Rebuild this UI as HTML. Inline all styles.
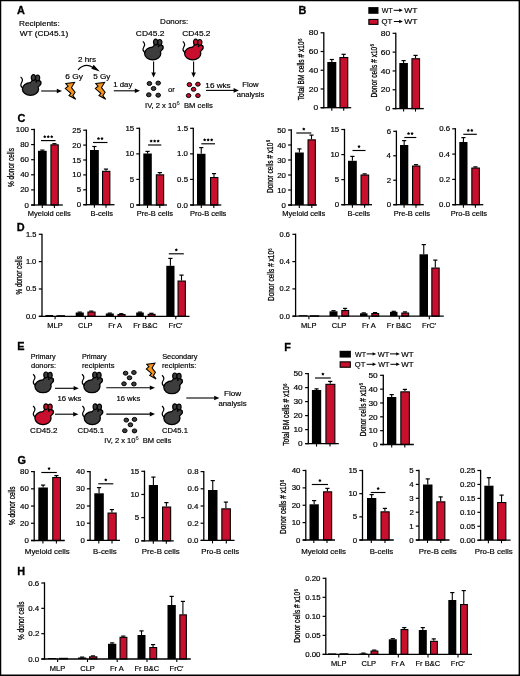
<!DOCTYPE html>
<html><head><meta charset="utf-8"><style>
html,body{margin:0;padding:0;background:#fff;}
svg{display:block;font-family:"Liberation Sans", sans-serif;will-change:transform;}
</style></head><body>
<svg width="520" height="676" viewBox="0 0 520 676" font-family='"Liberation Sans", sans-serif' fill="#000">
<rect x="0" y="0" width="520" height="676" fill="#fff"/>
<text x="16.92" y="14" font-size="10.9" font-weight="bold" stroke="#000" stroke-width="0.3" >A</text>
<text x="19.02" y="26" font-size="7.8" textLength="40.74" lengthAdjust="spacingAndGlyphs" stroke="#000" stroke-width="0.18" >Recipients:</text>
<text x="19.67" y="36" font-size="7.9" textLength="48.54" lengthAdjust="spacingAndGlyphs" stroke="#000" stroke-width="0.18" >WT (CD45.1)</text>
<g transform="translate(20,74.5)"><g fill="#000" stroke="#000" stroke-width="2.5"><ellipse cx="10.5" cy="14.5" rx="7.5" ry="5.8"/><ellipse cx="15.3" cy="9.2" rx="4.4" ry="3.7" transform="rotate(-20 15.3 9.2)"/><ellipse cx="18.5" cy="8.4" rx="1.9" ry="1.6"/></g><g fill="#3d3d3d"><ellipse cx="10.5" cy="14.5" rx="7.5" ry="5.8"/><ellipse cx="15.3" cy="9.2" rx="4.4" ry="3.7" transform="rotate(-20 15.3 9.2)"/><ellipse cx="18.5" cy="8.4" rx="1.9" ry="1.6"/></g><path d="M0.6 2.4 C3 4.4 2.8 6.4 1.5 8.2 C0.3 10.2 1 12.4 3.2 13.8" fill="none" stroke="#000" stroke-width="1.2"/><ellipse cx="13.4" cy="3.1" rx="2.1" ry="2.9" fill="#3d3d3d" stroke="#000" stroke-width="1.2"/><ellipse cx="17.6" cy="3.4" rx="2.1" ry="2.9" fill="#3d3d3d" stroke="#000" stroke-width="1.2"/><circle cx="16.3" cy="7.3" r="0.9" fill="#000"/></g>
<line x1="41.2" y1="91" x2="57.3" y2="91" stroke="#000" stroke-width="1.1"/>
<polygon points="56.8,88.7 62,91 56.8,93.3" fill="#000"/>
<polygon points="65.8,83.6 74.6,82.4 71.5,87.6 75.1,92.2 72.9,95.8 75.8,99.3 69,95.5 70.9,93.4 65.3,88.6 68.1,86.2" fill="#f7941d" stroke="#000" stroke-width="1.05" stroke-linejoin="miter"/>
<polygon points="95.8,83.6 104.6,82.4 101.5,87.6 105.1,92.2 102.9,95.8 105.8,99.3 99,95.5 100.9,93.4 95.3,88.6 98.1,86.2" fill="#f7941d" stroke="#000" stroke-width="1.05" stroke-linejoin="miter"/>
<text x="65.38" y="78.5" font-size="7.8" textLength="17.53" lengthAdjust="spacingAndGlyphs" stroke="#000" stroke-width="0.18" >6 Gy</text>
<text x="93.28" y="78.5" font-size="7.8" textLength="17.14" lengthAdjust="spacingAndGlyphs" stroke="#000" stroke-width="0.18" >5 Gy</text>
<text x="78.1" y="62" font-size="7.8" textLength="17.99" lengthAdjust="spacingAndGlyphs" stroke="#000" stroke-width="0.18" >2 hrs</text>
<path d="M78 69.8 Q85 62.6 93 67.4" fill="none" stroke="#000" stroke-width="1.2"/>
<polygon points="93.6,64.8 99.8,71.6 91.4,68.8" fill="#000"/>
<text x="113.21" y="87.3" font-size="7.8" stroke="#000" stroke-width="0.18" >1 day</text>
<line x1="113.8" y1="90.8" x2="135.3" y2="90.8" stroke="#000" stroke-width="1.1"/>
<polygon points="134.8,88.5 140,90.8 134.8,93.1" fill="#000"/>
<text x="160.14" y="24.4" font-size="7.8" textLength="27.99" lengthAdjust="spacingAndGlyphs" stroke="#000" stroke-width="0.18" >Donors:</text>
<text x="135.88" y="35.8" font-size="8" textLength="28.55" lengthAdjust="spacingAndGlyphs" stroke="#000" stroke-width="0.18" >CD45.2</text>
<text x="182.18" y="35.8" font-size="8" textLength="28.34" lengthAdjust="spacingAndGlyphs" stroke="#000" stroke-width="0.18" >CD45.2</text>
<g transform="translate(142.2,39)"><g fill="#000" stroke="#000" stroke-width="2.5"><ellipse cx="10.5" cy="14.5" rx="7.5" ry="5.8"/><ellipse cx="15.3" cy="9.2" rx="4.4" ry="3.7" transform="rotate(-20 15.3 9.2)"/><ellipse cx="18.5" cy="8.4" rx="1.9" ry="1.6"/></g><g fill="#3d3d3d"><ellipse cx="10.5" cy="14.5" rx="7.5" ry="5.8"/><ellipse cx="15.3" cy="9.2" rx="4.4" ry="3.7" transform="rotate(-20 15.3 9.2)"/><ellipse cx="18.5" cy="8.4" rx="1.9" ry="1.6"/></g><path d="M0.6 2.4 C3 4.4 2.8 6.4 1.5 8.2 C0.3 10.2 1 12.4 3.2 13.8" fill="none" stroke="#000" stroke-width="1.2"/><ellipse cx="13.4" cy="3.1" rx="2.1" ry="2.9" fill="#3d3d3d" stroke="#000" stroke-width="1.2"/><ellipse cx="17.6" cy="3.4" rx="2.1" ry="2.9" fill="#3d3d3d" stroke="#000" stroke-width="1.2"/><circle cx="16.3" cy="7.3" r="0.9" fill="#000"/></g>
<g transform="translate(182.2,39)"><g fill="#000" stroke="#000" stroke-width="2.5"><ellipse cx="10.5" cy="14.5" rx="7.5" ry="5.8"/><ellipse cx="15.3" cy="9.2" rx="4.4" ry="3.7" transform="rotate(-20 15.3 9.2)"/><ellipse cx="18.5" cy="8.4" rx="1.9" ry="1.6"/></g><g fill="#c8102e"><ellipse cx="10.5" cy="14.5" rx="7.5" ry="5.8"/><ellipse cx="15.3" cy="9.2" rx="4.4" ry="3.7" transform="rotate(-20 15.3 9.2)"/><ellipse cx="18.5" cy="8.4" rx="1.9" ry="1.6"/></g><path d="M0.6 2.4 C3 4.4 2.8 6.4 1.5 8.2 C0.3 10.2 1 12.4 3.2 13.8" fill="none" stroke="#000" stroke-width="1.2"/><ellipse cx="13.4" cy="3.1" rx="2.1" ry="2.9" fill="#c8102e" stroke="#000" stroke-width="1.2"/><ellipse cx="17.6" cy="3.4" rx="2.1" ry="2.9" fill="#c8102e" stroke="#000" stroke-width="1.2"/><circle cx="16.3" cy="7.3" r="0.9" fill="#000"/></g>
<line x1="153.6" y1="61.6" x2="153.6" y2="73.1" stroke="#000" stroke-width="1.1"/>
<polygon points="151.3,72.6 153.6,77.6 155.9,72.6" fill="#000"/>
<line x1="193.6" y1="61.6" x2="193.6" y2="73.1" stroke="#000" stroke-width="1.1"/>
<polygon points="191.3,72.6 193.6,77.6 195.9,72.6" fill="#000"/>
<ellipse cx="149.4" cy="83.5" rx="2.3" ry="2.0" fill="#3d3d3d" stroke="#000" stroke-width="1.0"/>
<ellipse cx="158.2" cy="83.1" rx="2.3" ry="2.0" fill="#3d3d3d" stroke="#000" stroke-width="1.0"/>
<ellipse cx="153.6" cy="88.5" rx="2.3" ry="2.0" fill="#3d3d3d" stroke="#000" stroke-width="1.0"/>
<ellipse cx="148.8" cy="94.8" rx="2.3" ry="2.0" fill="#3d3d3d" stroke="#000" stroke-width="1.0"/>
<ellipse cx="158.2" cy="95.2" rx="2.3" ry="2.0" fill="#3d3d3d" stroke="#000" stroke-width="1.0"/>
<ellipse cx="189.4" cy="84.6" rx="2.3" ry="2.0" fill="#c8102e" stroke="#000" stroke-width="1.0"/>
<ellipse cx="197.9" cy="84.2" rx="2.3" ry="2.0" fill="#c8102e" stroke="#000" stroke-width="1.0"/>
<ellipse cx="193.6" cy="89.3" rx="2.3" ry="2.0" fill="#c8102e" stroke="#000" stroke-width="1.0"/>
<ellipse cx="188.6" cy="95.6" rx="2.3" ry="2.0" fill="#c8102e" stroke="#000" stroke-width="1.0"/>
<ellipse cx="197.9" cy="95.6" rx="2.3" ry="2.0" fill="#c8102e" stroke="#000" stroke-width="1.0"/>
<text x="167.98" y="91.6" font-size="7.8" textLength="6.86" lengthAdjust="spacingAndGlyphs" stroke="#000" stroke-width="0.18" >or</text>
<text x="145.1" y="107.5" font-size="7.6" stroke="#000" stroke-width="0.18" >IV, 2 x 10</text>
<text x="176.61" y="104.9" font-size="5.4" textLength="3.25" lengthAdjust="spacingAndGlyphs" >6</text>
<text x="183.97" y="107.5" font-size="7.6" textLength="28.91" lengthAdjust="spacingAndGlyphs" stroke="#000" stroke-width="0.18" >BM cells</text>
<text x="205.38" y="87.7" font-size="7.8" textLength="25.31" lengthAdjust="spacingAndGlyphs" stroke="#000" stroke-width="0.18" >16 wks</text>
<line x1="206" y1="90.4" x2="234.1" y2="90.4" stroke="#000" stroke-width="1.1"/>
<polygon points="233.6,88.1 238.8,90.4 233.6,92.7" fill="#000"/>
<text x="242.27" y="87.3" font-size="7.6" textLength="16.21" lengthAdjust="spacingAndGlyphs" stroke="#000" stroke-width="0.18" >Flow</text>
<text x="236.68" y="96.5" font-size="7.6" textLength="27.6" lengthAdjust="spacingAndGlyphs" stroke="#000" stroke-width="0.18" >analysis</text>
<text x="298.48" y="13.6" font-size="10.9" font-weight="bold" stroke="#000" stroke-width="0.3" >B</text>
<rect x="368.3" y="7.1" width="10.2" height="6.7" fill="#000"/>
<rect x="368.85" y="19.45" width="9.1" height="4.9" fill="#c8102e" stroke="#000" stroke-width="1.1"/>
<text x="381.77" y="12.9" font-size="8" textLength="10.89" lengthAdjust="spacingAndGlyphs" stroke="#000" stroke-width="0.18" >WT</text>
<line x1="393.6" y1="10.3" x2="399.7" y2="10.3" stroke="#000" stroke-width="1"/>
<polygon points="399.2,8.6 402.8,10.3 399.2,12" fill="#000"/>
<text x="404.37" y="12.9" font-size="8" textLength="13.13" lengthAdjust="spacingAndGlyphs" stroke="#000" stroke-width="0.18" >WT</text>
<text x="381.43" y="24.1" font-size="8" textLength="10.75" lengthAdjust="spacingAndGlyphs" stroke="#000" stroke-width="0.18" >QT</text>
<line x1="393.9" y1="21.5" x2="399.7" y2="21.5" stroke="#000" stroke-width="1"/>
<polygon points="399.2,19.8 402.8,21.5 399.2,23.2" fill="#000"/>
<text x="404.37" y="24.1" font-size="8" textLength="13.13" lengthAdjust="spacingAndGlyphs" stroke="#000" stroke-width="0.18" >WT</text>
<line x1="331.8" y1="62" x2="331.8" y2="59.4" stroke="#000" stroke-width="1.1"/>
<line x1="329.7" y1="59.5" x2="333.9" y2="59.5" stroke="#000" stroke-width="1.2"/>
<rect x="327.3" y="62" width="9" height="45.7" fill="#000"/>
<line x1="343.65" y1="57" x2="343.65" y2="54.2" stroke="#000" stroke-width="1.1"/>
<line x1="341.55" y1="54.3" x2="345.75" y2="54.3" stroke="#000" stroke-width="1.2"/>
<rect x="339.95" y="57.55" width="7.8" height="50.15" fill="#c8102e" stroke="#000" stroke-width="1.1"/>
<line x1="323.8" y1="32.15" x2="323.8" y2="108.35" stroke="#000" stroke-width="1.3"/>
<line x1="320.6" y1="107.7" x2="323.8" y2="107.7" stroke="#000" stroke-width="1.2"/>
<text x="313.51" y="110.39" font-size="7.7" textLength="4.71" lengthAdjust="spacingAndGlyphs" stroke="#000" stroke-width="0.18" >0</text>
<line x1="320.6" y1="88.97" x2="323.8" y2="88.97" stroke="#000" stroke-width="1.2"/>
<text x="308.8" y="91.67" font-size="7.7" textLength="9.42" lengthAdjust="spacingAndGlyphs" stroke="#000" stroke-width="0.18" >20</text>
<line x1="320.6" y1="70.25" x2="323.8" y2="70.25" stroke="#000" stroke-width="1.2"/>
<text x="308.8" y="72.94" font-size="7.7" textLength="9.42" lengthAdjust="spacingAndGlyphs" stroke="#000" stroke-width="0.18" >40</text>
<line x1="320.6" y1="51.52" x2="323.8" y2="51.52" stroke="#000" stroke-width="1.2"/>
<text x="308.8" y="54.22" font-size="7.7" textLength="9.42" lengthAdjust="spacingAndGlyphs" stroke="#000" stroke-width="0.18" >60</text>
<line x1="320.6" y1="32.8" x2="323.8" y2="32.8" stroke="#000" stroke-width="1.2"/>
<text x="308.8" y="35.49" font-size="7.7" textLength="9.42" lengthAdjust="spacingAndGlyphs" stroke="#000" stroke-width="0.18" >80</text>
<line x1="320.7" y1="107.7" x2="351.2" y2="107.7" stroke="#000" stroke-width="1.3"/>
<line x1="331.8" y1="107.7" x2="331.8" y2="110.7" stroke="#000" stroke-width="1.1"/>
<line x1="343.7" y1="107.7" x2="343.7" y2="110.7" stroke="#000" stroke-width="1.1"/>
<g transform="translate(303.8,100.1) rotate(-90)"><text x="-0.15" y="0" font-size="8.5" textLength="58.96" lengthAdjust="spacingAndGlyphs" stroke="#000" stroke-width="0.28">Total BM cells # x10</text><text x="59.13" y="-2.21" font-size="5.44" textLength="2.36" lengthAdjust="spacingAndGlyphs" stroke="#000" stroke-width="0.2">6</text></g>
<line x1="403.6" y1="63" x2="403.6" y2="60.5" stroke="#000" stroke-width="1.1"/>
<line x1="401.5" y1="60.6" x2="405.7" y2="60.6" stroke="#000" stroke-width="1.2"/>
<rect x="399.3" y="63" width="8.6" height="45.6" fill="#000"/>
<line x1="415.55" y1="58.2" x2="415.55" y2="55.3" stroke="#000" stroke-width="1.1"/>
<line x1="413.45" y1="55.4" x2="417.65" y2="55.4" stroke="#000" stroke-width="1.2"/>
<rect x="411.95" y="58.75" width="7.6" height="49.85" fill="#c8102e" stroke="#000" stroke-width="1.1"/>
<line x1="395.8" y1="32.65" x2="395.8" y2="109.25" stroke="#000" stroke-width="1.3"/>
<line x1="392.6" y1="108.6" x2="395.8" y2="108.6" stroke="#000" stroke-width="1.2"/>
<text x="385.51" y="111.29" font-size="7.7" textLength="4.71" lengthAdjust="spacingAndGlyphs" stroke="#000" stroke-width="0.18" >0</text>
<line x1="392.6" y1="89.77" x2="395.8" y2="89.77" stroke="#000" stroke-width="1.2"/>
<text x="380.8" y="92.47" font-size="7.7" textLength="9.42" lengthAdjust="spacingAndGlyphs" stroke="#000" stroke-width="0.18" >20</text>
<line x1="392.6" y1="70.95" x2="395.8" y2="70.95" stroke="#000" stroke-width="1.2"/>
<text x="380.8" y="73.64" font-size="7.7" textLength="9.42" lengthAdjust="spacingAndGlyphs" stroke="#000" stroke-width="0.18" >40</text>
<line x1="392.6" y1="52.12" x2="395.8" y2="52.12" stroke="#000" stroke-width="1.2"/>
<text x="380.8" y="54.82" font-size="7.7" textLength="9.42" lengthAdjust="spacingAndGlyphs" stroke="#000" stroke-width="0.18" >60</text>
<line x1="392.6" y1="33.3" x2="395.8" y2="33.3" stroke="#000" stroke-width="1.2"/>
<text x="380.8" y="35.99" font-size="7.7" textLength="9.42" lengthAdjust="spacingAndGlyphs" stroke="#000" stroke-width="0.18" >80</text>
<line x1="392.7" y1="108.6" x2="423.8" y2="108.6" stroke="#000" stroke-width="1.3"/>
<line x1="403.6" y1="108.6" x2="403.6" y2="111.6" stroke="#000" stroke-width="1.1"/>
<line x1="415.5" y1="108.6" x2="415.5" y2="111.6" stroke="#000" stroke-width="1.1"/>
<g transform="translate(376.5,97) rotate(-90)"><text x="-0.54" y="0" font-size="8.7" textLength="50.78" lengthAdjust="spacingAndGlyphs" stroke="#000" stroke-width="0.28">Donor cells # x10</text><text x="50.55" y="-2.26" font-size="5.57" textLength="2.34" lengthAdjust="spacingAndGlyphs" stroke="#000" stroke-width="0.2">6</text></g>
<text x="17.56" y="122.3" font-size="10.9" font-weight="bold" stroke="#000" stroke-width="0.3" >C</text>
<line x1="42.35" y1="150.8" x2="42.35" y2="150" stroke="#000" stroke-width="1.1"/>
<line x1="40.25" y1="150.1" x2="44.45" y2="150.1" stroke="#000" stroke-width="1.2"/>
<rect x="38" y="150.8" width="8.7" height="54.2" fill="#000"/>
<line x1="54.4" y1="144.3" x2="54.4" y2="143.6" stroke="#000" stroke-width="1.1"/>
<line x1="52.3" y1="143.7" x2="56.5" y2="143.7" stroke="#000" stroke-width="1.2"/>
<rect x="50.95" y="144.85" width="7.3" height="60.15" fill="#c8102e" stroke="#000" stroke-width="1.1"/>
<line x1="34.3" y1="128.85" x2="34.3" y2="205.65" stroke="#000" stroke-width="1.3"/>
<line x1="31.1" y1="205" x2="34.3" y2="205" stroke="#000" stroke-width="1.2"/>
<text x="24.62" y="207.56" font-size="7.3" textLength="4.38" lengthAdjust="spacingAndGlyphs" stroke="#000" stroke-width="0.18" >0</text>
<line x1="31.1" y1="189.9" x2="34.3" y2="189.9" stroke="#000" stroke-width="1.2"/>
<text x="20.23" y="192.46" font-size="7.3" textLength="8.77" lengthAdjust="spacingAndGlyphs" stroke="#000" stroke-width="0.18" >20</text>
<line x1="31.1" y1="174.8" x2="34.3" y2="174.8" stroke="#000" stroke-width="1.2"/>
<text x="20.23" y="177.36" font-size="7.3" textLength="8.77" lengthAdjust="spacingAndGlyphs" stroke="#000" stroke-width="0.18" >40</text>
<line x1="31.1" y1="159.7" x2="34.3" y2="159.7" stroke="#000" stroke-width="1.2"/>
<text x="20.23" y="162.25" font-size="7.3" textLength="8.77" lengthAdjust="spacingAndGlyphs" stroke="#000" stroke-width="0.18" >60</text>
<line x1="31.1" y1="144.6" x2="34.3" y2="144.6" stroke="#000" stroke-width="1.2"/>
<text x="20.23" y="147.16" font-size="7.3" textLength="8.77" lengthAdjust="spacingAndGlyphs" stroke="#000" stroke-width="0.18" >80</text>
<line x1="31.1" y1="129.5" x2="34.3" y2="129.5" stroke="#000" stroke-width="1.2"/>
<text x="15.85" y="132.06" font-size="7.3" textLength="13.15" lengthAdjust="spacingAndGlyphs" stroke="#000" stroke-width="0.18" >100</text>
<line x1="31.2" y1="205" x2="62.8" y2="205" stroke="#000" stroke-width="1.3"/>
<line x1="42.3" y1="205" x2="42.3" y2="208" stroke="#000" stroke-width="1.1"/>
<line x1="54.4" y1="205" x2="54.4" y2="208" stroke="#000" stroke-width="1.1"/>
<text x="27.86" y="215.8" font-size="7.5" stroke="#000" stroke-width="0.18" >Myeloid cells</text>
<line x1="41" y1="140.6" x2="55.5" y2="140.6" stroke="#000" stroke-width="1.15"/>
<polygon points="44.75,135.05 45.33,135.9 46.32,136.19 45.69,137.01 45.72,138.03 44.75,137.69 43.78,138.03 43.81,137.01 43.18,136.19 44.17,135.9" fill="#000"/>
<polygon points="48.25,135.05 48.83,135.9 49.82,136.19 49.19,137.01 49.22,138.03 48.25,137.69 47.28,138.03 47.31,137.01 46.68,136.19 47.67,135.9" fill="#000"/>
<polygon points="51.75,135.05 52.33,135.9 53.32,136.19 52.69,137.01 52.72,138.03 51.75,137.69 50.78,138.03 50.81,137.01 50.18,136.19 51.17,135.9" fill="#000"/>
<g transform="translate(13.8,186.8) rotate(-90)"><text x="-0.23" y="0" font-size="8.5" textLength="38.97" lengthAdjust="spacingAndGlyphs" stroke="#000" stroke-width="0.28">% donor cells</text></g>
<line x1="94.4" y1="150" x2="94.4" y2="146.4" stroke="#000" stroke-width="1.1"/>
<line x1="92.3" y1="146.5" x2="96.5" y2="146.5" stroke="#000" stroke-width="1.2"/>
<rect x="90" y="150" width="8.8" height="54.7" fill="#000"/>
<line x1="106" y1="170.8" x2="106" y2="169" stroke="#000" stroke-width="1.1"/>
<line x1="103.9" y1="169.1" x2="108.1" y2="169.1" stroke="#000" stroke-width="1.2"/>
<rect x="102.55" y="171.35" width="7.3" height="33.35" fill="#c8102e" stroke="#000" stroke-width="1.1"/>
<line x1="86.4" y1="129.55" x2="86.4" y2="205.35" stroke="#000" stroke-width="1.3"/>
<line x1="83.2" y1="204.7" x2="86.4" y2="204.7" stroke="#000" stroke-width="1.2"/>
<text x="76.72" y="207.25" font-size="7.3" textLength="4.38" lengthAdjust="spacingAndGlyphs" stroke="#000" stroke-width="0.18" >0</text>
<line x1="83.2" y1="189.8" x2="86.4" y2="189.8" stroke="#000" stroke-width="1.2"/>
<text x="76.75" y="192.35" font-size="7.3" textLength="4.38" lengthAdjust="spacingAndGlyphs" stroke="#000" stroke-width="0.18" >5</text>
<line x1="83.2" y1="174.9" x2="86.4" y2="174.9" stroke="#000" stroke-width="1.2"/>
<text x="72.33" y="177.45" font-size="7.3" textLength="8.77" lengthAdjust="spacingAndGlyphs" stroke="#000" stroke-width="0.18" >10</text>
<line x1="83.2" y1="160" x2="86.4" y2="160" stroke="#000" stroke-width="1.2"/>
<text x="72.36" y="162.56" font-size="7.3" textLength="8.77" lengthAdjust="spacingAndGlyphs" stroke="#000" stroke-width="0.18" >15</text>
<line x1="83.2" y1="145.1" x2="86.4" y2="145.1" stroke="#000" stroke-width="1.2"/>
<text x="72.33" y="147.66" font-size="7.3" textLength="8.77" lengthAdjust="spacingAndGlyphs" stroke="#000" stroke-width="0.18" >20</text>
<line x1="83.2" y1="130.2" x2="86.4" y2="130.2" stroke="#000" stroke-width="1.2"/>
<text x="72.36" y="132.75" font-size="7.3" textLength="8.77" lengthAdjust="spacingAndGlyphs" stroke="#000" stroke-width="0.18" >25</text>
<line x1="83.3" y1="204.7" x2="114.5" y2="204.7" stroke="#000" stroke-width="1.3"/>
<line x1="94.4" y1="204.7" x2="94.4" y2="207.7" stroke="#000" stroke-width="1.1"/>
<line x1="106" y1="204.7" x2="106" y2="207.7" stroke="#000" stroke-width="1.1"/>
<text x="90.38" y="215.8" font-size="7.5" stroke="#000" stroke-width="0.18" >B-cells</text>
<line x1="93" y1="142.5" x2="107.5" y2="142.5" stroke="#000" stroke-width="1.15"/>
<polygon points="98.5,136.95 99.08,137.8 100.07,138.09 99.44,138.91 99.47,139.93 98.5,139.59 97.53,139.93 97.56,138.91 96.93,138.09 97.92,137.8" fill="#000"/>
<polygon points="102,136.95 102.58,137.8 103.57,138.09 102.94,138.91 102.97,139.93 102,139.59 101.03,139.93 101.06,138.91 100.43,138.09 101.42,137.8" fill="#000"/>
<line x1="147.55" y1="153.5" x2="147.55" y2="151.3" stroke="#000" stroke-width="1.1"/>
<line x1="145.45" y1="151.4" x2="149.65" y2="151.4" stroke="#000" stroke-width="1.2"/>
<rect x="143.3" y="153.5" width="8.5" height="51.5" fill="#000"/>
<line x1="159.8" y1="174.3" x2="159.8" y2="172.5" stroke="#000" stroke-width="1.1"/>
<line x1="157.7" y1="172.6" x2="161.9" y2="172.6" stroke="#000" stroke-width="1.2"/>
<rect x="156.35" y="174.85" width="7.3" height="30.15" fill="#c8102e" stroke="#000" stroke-width="1.1"/>
<line x1="139.5" y1="127.65" x2="139.5" y2="205.65" stroke="#000" stroke-width="1.3"/>
<line x1="136.3" y1="205" x2="139.5" y2="205" stroke="#000" stroke-width="1.2"/>
<text x="129.82" y="207.56" font-size="7.3" textLength="4.38" lengthAdjust="spacingAndGlyphs" stroke="#000" stroke-width="0.18" >0</text>
<line x1="136.3" y1="179.43" x2="139.5" y2="179.43" stroke="#000" stroke-width="1.2"/>
<text x="129.85" y="181.99" font-size="7.3" textLength="4.38" lengthAdjust="spacingAndGlyphs" stroke="#000" stroke-width="0.18" >5</text>
<line x1="136.3" y1="153.87" x2="139.5" y2="153.87" stroke="#000" stroke-width="1.2"/>
<text x="125.43" y="156.42" font-size="7.3" textLength="8.77" lengthAdjust="spacingAndGlyphs" stroke="#000" stroke-width="0.18" >10</text>
<line x1="136.3" y1="128.3" x2="139.5" y2="128.3" stroke="#000" stroke-width="1.2"/>
<text x="125.46" y="130.86" font-size="7.3" textLength="8.77" lengthAdjust="spacingAndGlyphs" stroke="#000" stroke-width="0.18" >15</text>
<line x1="136.4" y1="205" x2="167" y2="205" stroke="#000" stroke-width="1.3"/>
<line x1="147.5" y1="205" x2="147.5" y2="208" stroke="#000" stroke-width="1.1"/>
<line x1="159.8" y1="205" x2="159.8" y2="208" stroke="#000" stroke-width="1.1"/>
<text x="136.7" y="215.8" font-size="7.5" stroke="#000" stroke-width="0.18" >Pre-B cells</text>
<line x1="148" y1="145" x2="161.3" y2="145" stroke="#000" stroke-width="1.15"/>
<polygon points="151.15,139.45 151.73,140.3 152.72,140.59 152.09,141.41 152.12,142.43 151.15,142.09 150.18,142.43 150.21,141.41 149.58,140.59 150.57,140.3" fill="#000"/>
<polygon points="154.65,139.45 155.23,140.3 156.22,140.59 155.59,141.41 155.62,142.43 154.65,142.09 153.68,142.43 153.71,141.41 153.08,140.59 154.07,140.3" fill="#000"/>
<polygon points="158.15,139.45 158.73,140.3 159.72,140.59 159.09,141.41 159.12,142.43 158.15,142.09 157.18,142.43 157.21,141.41 156.58,140.59 157.57,140.3" fill="#000"/>
<line x1="201.25" y1="153.8" x2="201.25" y2="147.5" stroke="#000" stroke-width="1.1"/>
<line x1="199.15" y1="147.6" x2="203.35" y2="147.6" stroke="#000" stroke-width="1.2"/>
<rect x="197" y="153.8" width="8.5" height="51.2" fill="#000"/>
<line x1="214" y1="177" x2="214" y2="173.5" stroke="#000" stroke-width="1.1"/>
<line x1="211.9" y1="173.6" x2="216.1" y2="173.6" stroke="#000" stroke-width="1.2"/>
<rect x="210.55" y="177.55" width="7.3" height="27.45" fill="#c8102e" stroke="#000" stroke-width="1.1"/>
<line x1="193.3" y1="127.65" x2="193.3" y2="205.65" stroke="#000" stroke-width="1.3"/>
<line x1="190.1" y1="205" x2="193.3" y2="205" stroke="#000" stroke-width="1.2"/>
<text x="177.04" y="207.56" font-size="7.3" textLength="10.96" lengthAdjust="spacingAndGlyphs" stroke="#000" stroke-width="0.18" >0.0</text>
<line x1="190.1" y1="179.43" x2="193.3" y2="179.43" stroke="#000" stroke-width="1.2"/>
<text x="177.07" y="181.99" font-size="7.3" textLength="10.96" lengthAdjust="spacingAndGlyphs" stroke="#000" stroke-width="0.18" >0.5</text>
<line x1="190.1" y1="153.87" x2="193.3" y2="153.87" stroke="#000" stroke-width="1.2"/>
<text x="177.04" y="156.42" font-size="7.3" textLength="10.96" lengthAdjust="spacingAndGlyphs" stroke="#000" stroke-width="0.18" >1.0</text>
<line x1="190.1" y1="128.3" x2="193.3" y2="128.3" stroke="#000" stroke-width="1.2"/>
<text x="177.07" y="130.86" font-size="7.3" textLength="10.96" lengthAdjust="spacingAndGlyphs" stroke="#000" stroke-width="0.18" >1.5</text>
<line x1="190.2" y1="205" x2="221.3" y2="205" stroke="#000" stroke-width="1.3"/>
<line x1="201.3" y1="205" x2="201.3" y2="208" stroke="#000" stroke-width="1.1"/>
<line x1="213.8" y1="205" x2="213.8" y2="208" stroke="#000" stroke-width="1.1"/>
<text x="190.1" y="215.8" font-size="7.5" stroke="#000" stroke-width="0.18" >Pro-B cells</text>
<line x1="201.3" y1="143.8" x2="215" y2="143.8" stroke="#000" stroke-width="1.15"/>
<polygon points="204.65,138.25 205.23,139.1 206.22,139.39 205.59,140.21 205.62,141.23 204.65,140.89 203.68,141.23 203.71,140.21 203.08,139.39 204.07,139.1" fill="#000"/>
<polygon points="208.15,138.25 208.73,139.1 209.72,139.39 209.09,140.21 209.12,141.23 208.15,140.89 207.18,141.23 207.21,140.21 206.58,139.39 207.57,139.1" fill="#000"/>
<polygon points="211.65,138.25 212.23,139.1 213.22,139.39 212.59,140.21 212.62,141.23 211.65,140.89 210.68,141.23 210.71,140.21 210.08,139.39 211.07,139.1" fill="#000"/>
<line x1="299.4" y1="152.5" x2="299.4" y2="148.8" stroke="#000" stroke-width="1.1"/>
<line x1="297.3" y1="148.9" x2="301.5" y2="148.9" stroke="#000" stroke-width="1.2"/>
<rect x="295" y="152.5" width="8.8" height="52.5" fill="#000"/>
<line x1="311.5" y1="139.3" x2="311.5" y2="135" stroke="#000" stroke-width="1.1"/>
<line x1="309.4" y1="135.1" x2="313.6" y2="135.1" stroke="#000" stroke-width="1.2"/>
<rect x="308.05" y="139.85" width="7.3" height="65.15" fill="#c8102e" stroke="#000" stroke-width="1.1"/>
<line x1="291.3" y1="129.35" x2="291.3" y2="205.65" stroke="#000" stroke-width="1.3"/>
<line x1="288.1" y1="205" x2="291.3" y2="205" stroke="#000" stroke-width="1.2"/>
<text x="281.62" y="207.56" font-size="7.3" textLength="4.38" lengthAdjust="spacingAndGlyphs" stroke="#000" stroke-width="0.18" >0</text>
<line x1="288.1" y1="190" x2="291.3" y2="190" stroke="#000" stroke-width="1.2"/>
<text x="277.23" y="192.56" font-size="7.3" textLength="8.77" lengthAdjust="spacingAndGlyphs" stroke="#000" stroke-width="0.18" >10</text>
<line x1="288.1" y1="175" x2="291.3" y2="175" stroke="#000" stroke-width="1.2"/>
<text x="277.23" y="177.56" font-size="7.3" textLength="8.77" lengthAdjust="spacingAndGlyphs" stroke="#000" stroke-width="0.18" >20</text>
<line x1="288.1" y1="160" x2="291.3" y2="160" stroke="#000" stroke-width="1.2"/>
<text x="277.23" y="162.56" font-size="7.3" textLength="8.77" lengthAdjust="spacingAndGlyphs" stroke="#000" stroke-width="0.18" >30</text>
<line x1="288.1" y1="145" x2="291.3" y2="145" stroke="#000" stroke-width="1.2"/>
<text x="277.23" y="147.56" font-size="7.3" textLength="8.77" lengthAdjust="spacingAndGlyphs" stroke="#000" stroke-width="0.18" >40</text>
<line x1="288.1" y1="130" x2="291.3" y2="130" stroke="#000" stroke-width="1.2"/>
<text x="277.23" y="132.56" font-size="7.3" textLength="8.77" lengthAdjust="spacingAndGlyphs" stroke="#000" stroke-width="0.18" >50</text>
<line x1="288.2" y1="205" x2="317" y2="205" stroke="#000" stroke-width="1.3"/>
<line x1="299.3" y1="205" x2="299.3" y2="208" stroke="#000" stroke-width="1.1"/>
<line x1="311.8" y1="205" x2="311.8" y2="208" stroke="#000" stroke-width="1.1"/>
<text x="282.36" y="215.8" font-size="7.5" stroke="#000" stroke-width="0.18" >Myeloid cells</text>
<line x1="296.3" y1="133" x2="311.3" y2="133" stroke="#000" stroke-width="1.15"/>
<polygon points="303.8,127.45 304.38,128.3 305.37,128.59 304.74,129.41 304.77,130.43 303.8,130.09 302.83,130.43 302.86,129.41 302.23,128.59 303.22,128.3" fill="#000"/>
<g transform="translate(272.6,192.5) rotate(-90)"><text x="-0.53" y="0" font-size="8.5" textLength="50.39" lengthAdjust="spacingAndGlyphs" stroke="#000" stroke-width="0.28">Donor cells # x10</text><text x="50.16" y="-2.21" font-size="5.44" textLength="2.32" lengthAdjust="spacingAndGlyphs" stroke="#000" stroke-width="0.2">6</text></g>
<line x1="352.4" y1="160.8" x2="352.4" y2="156.3" stroke="#000" stroke-width="1.1"/>
<line x1="350.3" y1="156.4" x2="354.5" y2="156.4" stroke="#000" stroke-width="1.2"/>
<rect x="348" y="160.8" width="8.8" height="43.9" fill="#000"/>
<line x1="364.65" y1="174.5" x2="364.65" y2="173.8" stroke="#000" stroke-width="1.1"/>
<line x1="362.55" y1="173.9" x2="366.75" y2="173.9" stroke="#000" stroke-width="1.2"/>
<rect x="361.05" y="175.05" width="7.6" height="29.65" fill="#c8102e" stroke="#000" stroke-width="1.1"/>
<line x1="344.5" y1="128.85" x2="344.5" y2="205.35" stroke="#000" stroke-width="1.3"/>
<line x1="341.3" y1="204.7" x2="344.5" y2="204.7" stroke="#000" stroke-width="1.2"/>
<text x="334.82" y="207.25" font-size="7.3" textLength="4.38" lengthAdjust="spacingAndGlyphs" stroke="#000" stroke-width="0.18" >0</text>
<line x1="341.3" y1="179.63" x2="344.5" y2="179.63" stroke="#000" stroke-width="1.2"/>
<text x="334.85" y="182.19" font-size="7.3" textLength="4.38" lengthAdjust="spacingAndGlyphs" stroke="#000" stroke-width="0.18" >5</text>
<line x1="341.3" y1="154.57" x2="344.5" y2="154.57" stroke="#000" stroke-width="1.2"/>
<text x="330.43" y="157.12" font-size="7.3" textLength="8.77" lengthAdjust="spacingAndGlyphs" stroke="#000" stroke-width="0.18" >10</text>
<line x1="341.3" y1="129.5" x2="344.5" y2="129.5" stroke="#000" stroke-width="1.2"/>
<text x="330.46" y="132.06" font-size="7.3" textLength="8.77" lengthAdjust="spacingAndGlyphs" stroke="#000" stroke-width="0.18" >15</text>
<line x1="341.4" y1="204.7" x2="372" y2="204.7" stroke="#000" stroke-width="1.3"/>
<line x1="352.4" y1="204.7" x2="352.4" y2="207.7" stroke="#000" stroke-width="1.1"/>
<line x1="364.6" y1="204.7" x2="364.6" y2="207.7" stroke="#000" stroke-width="1.1"/>
<text x="347.58" y="215.8" font-size="7.5" stroke="#000" stroke-width="0.18" >B-cells</text>
<line x1="352.5" y1="150.5" x2="365.5" y2="150.5" stroke="#000" stroke-width="1.15"/>
<polygon points="359,144.95 359.58,145.8 360.57,146.09 359.94,146.91 359.97,147.93 359,147.59 358.03,147.93 358.06,146.91 357.43,146.09 358.42,145.8" fill="#000"/>
<line x1="404.15" y1="145" x2="404.15" y2="140.5" stroke="#000" stroke-width="1.1"/>
<line x1="402.05" y1="140.6" x2="406.25" y2="140.6" stroke="#000" stroke-width="1.2"/>
<rect x="400" y="145" width="8.3" height="59.7" fill="#000"/>
<line x1="416" y1="165.5" x2="416" y2="164.6" stroke="#000" stroke-width="1.1"/>
<line x1="413.9" y1="164.7" x2="418.1" y2="164.7" stroke="#000" stroke-width="1.2"/>
<rect x="412.55" y="166.05" width="7.3" height="38.65" fill="#c8102e" stroke="#000" stroke-width="1.1"/>
<line x1="396.4" y1="130.65" x2="396.4" y2="205.35" stroke="#000" stroke-width="1.3"/>
<line x1="393.2" y1="204.7" x2="396.4" y2="204.7" stroke="#000" stroke-width="1.2"/>
<text x="386.72" y="207.25" font-size="7.3" textLength="4.38" lengthAdjust="spacingAndGlyphs" stroke="#000" stroke-width="0.18" >0</text>
<line x1="393.2" y1="180.23" x2="396.4" y2="180.23" stroke="#000" stroke-width="1.2"/>
<text x="386.81" y="182.79" font-size="7.3" textLength="4.38" lengthAdjust="spacingAndGlyphs" stroke="#000" stroke-width="0.18" >2</text>
<line x1="393.2" y1="155.77" x2="396.4" y2="155.77" stroke="#000" stroke-width="1.2"/>
<text x="386.64" y="158.32" font-size="7.3" textLength="4.38" lengthAdjust="spacingAndGlyphs" stroke="#000" stroke-width="0.18" >4</text>
<line x1="393.2" y1="131.3" x2="396.4" y2="131.3" stroke="#000" stroke-width="1.2"/>
<text x="386.76" y="133.86" font-size="7.3" textLength="4.38" lengthAdjust="spacingAndGlyphs" stroke="#000" stroke-width="0.18" >6</text>
<line x1="393.3" y1="204.7" x2="423.8" y2="204.7" stroke="#000" stroke-width="1.3"/>
<line x1="404.1" y1="204.7" x2="404.1" y2="207.7" stroke="#000" stroke-width="1.1"/>
<line x1="416" y1="204.7" x2="416" y2="207.7" stroke="#000" stroke-width="1.1"/>
<text x="393.7" y="215.8" font-size="7.5" stroke="#000" stroke-width="0.18" >Pre-B cells</text>
<line x1="404.3" y1="137.5" x2="416.3" y2="137.5" stroke="#000" stroke-width="1.15"/>
<polygon points="408.55,131.95 409.13,132.8 410.12,133.09 409.49,133.91 409.52,134.93 408.55,134.59 407.58,134.93 407.61,133.91 406.98,133.09 407.97,132.8" fill="#000"/>
<polygon points="412.05,131.95 412.63,132.8 413.62,133.09 412.99,133.91 413.02,134.93 412.05,134.59 411.08,134.93 411.11,133.91 410.48,133.09 411.47,132.8" fill="#000"/>
<line x1="463.4" y1="142" x2="463.4" y2="137.5" stroke="#000" stroke-width="1.1"/>
<line x1="461.3" y1="137.6" x2="465.5" y2="137.6" stroke="#000" stroke-width="1.2"/>
<rect x="459.3" y="142" width="8.2" height="62.7" fill="#000"/>
<line x1="475.4" y1="167.5" x2="475.4" y2="166.8" stroke="#000" stroke-width="1.1"/>
<line x1="473.3" y1="166.9" x2="477.5" y2="166.9" stroke="#000" stroke-width="1.2"/>
<rect x="471.85" y="168.05" width="7.5" height="36.65" fill="#c8102e" stroke="#000" stroke-width="1.1"/>
<line x1="455.4" y1="128.15" x2="455.4" y2="205.35" stroke="#000" stroke-width="1.3"/>
<line x1="452.2" y1="204.7" x2="455.4" y2="204.7" stroke="#000" stroke-width="1.2"/>
<text x="439.14" y="207.25" font-size="7.3" textLength="10.96" lengthAdjust="spacingAndGlyphs" stroke="#000" stroke-width="0.18" >0.0</text>
<line x1="452.2" y1="179.4" x2="455.4" y2="179.4" stroke="#000" stroke-width="1.2"/>
<text x="439.24" y="181.96" font-size="7.3" textLength="10.96" lengthAdjust="spacingAndGlyphs" stroke="#000" stroke-width="0.18" >0.2</text>
<line x1="452.2" y1="154.1" x2="455.4" y2="154.1" stroke="#000" stroke-width="1.2"/>
<text x="439.06" y="156.66" font-size="7.3" textLength="10.96" lengthAdjust="spacingAndGlyphs" stroke="#000" stroke-width="0.18" >0.4</text>
<line x1="452.2" y1="128.8" x2="455.4" y2="128.8" stroke="#000" stroke-width="1.2"/>
<text x="439.19" y="131.36" font-size="7.3" textLength="10.96" lengthAdjust="spacingAndGlyphs" stroke="#000" stroke-width="0.18" >0.6</text>
<line x1="452.3" y1="204.7" x2="483.3" y2="204.7" stroke="#000" stroke-width="1.3"/>
<line x1="463.4" y1="204.7" x2="463.4" y2="207.7" stroke="#000" stroke-width="1.1"/>
<line x1="475.4" y1="204.7" x2="475.4" y2="207.7" stroke="#000" stroke-width="1.1"/>
<text x="450.8" y="215.8" font-size="7.5" stroke="#000" stroke-width="0.18" >Pro-B cells</text>
<line x1="463.3" y1="134.3" x2="476.8" y2="134.3" stroke="#000" stroke-width="1.15"/>
<polygon points="468.3,128.75 468.88,129.6 469.87,129.89 469.24,130.71 469.27,131.73 468.3,131.39 467.33,131.73 467.36,130.71 466.73,129.89 467.72,129.6" fill="#000"/>
<polygon points="471.8,128.75 472.38,129.6 473.37,129.89 472.74,130.71 472.77,131.73 471.8,131.39 470.83,131.73 470.86,130.71 470.23,129.89 471.22,129.6" fill="#000"/>
<text x="16.78" y="231.1" font-size="10.9" font-weight="bold" stroke="#000" stroke-width="0.3" >D</text>
<rect x="45.4" y="315" width="7.8" height="1.3" fill="#000"/>
<rect x="56.95" y="315.75" width="7.5" height="0.55" fill="#c8102e" stroke="#000" stroke-width="1.1"/>
<line x1="79.75" y1="312.5" x2="79.75" y2="312" stroke="#000" stroke-width="1.1"/>
<line x1="77.65" y1="312.1" x2="81.85" y2="312.1" stroke="#000" stroke-width="1.2"/>
<rect x="75.7" y="312.5" width="8.1" height="3.8" fill="#000"/>
<line x1="91.3" y1="311.5" x2="91.3" y2="311" stroke="#000" stroke-width="1.1"/>
<line x1="89.2" y1="311.1" x2="93.4" y2="311.1" stroke="#000" stroke-width="1.2"/>
<rect x="87.95" y="312.05" width="7.1" height="4.25" fill="#c8102e" stroke="#000" stroke-width="1.1"/>
<line x1="109.8" y1="313.5" x2="109.8" y2="313" stroke="#000" stroke-width="1.1"/>
<line x1="107.7" y1="313.1" x2="111.9" y2="313.1" stroke="#000" stroke-width="1.2"/>
<rect x="105.8" y="313.5" width="8" height="2.8" fill="#000"/>
<line x1="121.3" y1="314" x2="121.3" y2="313.6" stroke="#000" stroke-width="1.1"/>
<line x1="119.2" y1="313.7" x2="123.4" y2="313.7" stroke="#000" stroke-width="1.2"/>
<rect x="117.95" y="314.55" width="7.1" height="1.75" fill="#c8102e" stroke="#000" stroke-width="1.1"/>
<line x1="140" y1="312.5" x2="140" y2="312" stroke="#000" stroke-width="1.1"/>
<line x1="137.9" y1="312.1" x2="142.1" y2="312.1" stroke="#000" stroke-width="1.2"/>
<rect x="136.2" y="312.5" width="7.6" height="3.8" fill="#000"/>
<line x1="151.4" y1="313.8" x2="151.4" y2="313.2" stroke="#000" stroke-width="1.1"/>
<line x1="149.3" y1="313.3" x2="153.5" y2="313.3" stroke="#000" stroke-width="1.2"/>
<rect x="148.15" y="314.35" width="6.9" height="1.95" fill="#c8102e" stroke="#000" stroke-width="1.1"/>
<line x1="170.4" y1="265.8" x2="170.4" y2="258.3" stroke="#000" stroke-width="1.1"/>
<line x1="168.3" y1="258.4" x2="172.5" y2="258.4" stroke="#000" stroke-width="1.2"/>
<rect x="166.3" y="265.8" width="8.2" height="50.5" fill="#000"/>
<line x1="181.5" y1="280.5" x2="181.5" y2="275" stroke="#000" stroke-width="1.1"/>
<line x1="179.4" y1="275.1" x2="183.6" y2="275.1" stroke="#000" stroke-width="1.2"/>
<rect x="178.05" y="281.05" width="7.3" height="35.25" fill="#c8102e" stroke="#000" stroke-width="1.1"/>
<line x1="42" y1="233.65" x2="42" y2="316.95" stroke="#000" stroke-width="1.3"/>
<line x1="38.8" y1="316.3" x2="42" y2="316.3" stroke="#000" stroke-width="1.2"/>
<text x="25.92" y="318.61" font-size="6.6" textLength="10.37" lengthAdjust="spacingAndGlyphs" stroke="#000" stroke-width="0.18" >0.0</text>
<line x1="38.8" y1="288.97" x2="42" y2="288.97" stroke="#000" stroke-width="1.2"/>
<text x="25.95" y="291.28" font-size="6.6" textLength="10.37" lengthAdjust="spacingAndGlyphs" stroke="#000" stroke-width="0.18" >0.5</text>
<line x1="38.8" y1="261.63" x2="42" y2="261.63" stroke="#000" stroke-width="1.2"/>
<text x="25.92" y="263.94" font-size="6.6" textLength="10.37" lengthAdjust="spacingAndGlyphs" stroke="#000" stroke-width="0.18" >1.0</text>
<line x1="38.8" y1="234.3" x2="42" y2="234.3" stroke="#000" stroke-width="1.2"/>
<text x="25.95" y="236.61" font-size="6.6" textLength="10.37" lengthAdjust="spacingAndGlyphs" stroke="#000" stroke-width="0.18" >1.5</text>
<line x1="38.9" y1="316.3" x2="189.5" y2="316.3" stroke="#000" stroke-width="1.3"/>
<line x1="55.1" y1="316.3" x2="55.1" y2="319.3" stroke="#000" stroke-width="1.1"/>
<line x1="85.3" y1="316.3" x2="85.3" y2="319.3" stroke="#000" stroke-width="1.1"/>
<line x1="115.4" y1="316.3" x2="115.4" y2="319.3" stroke="#000" stroke-width="1.1"/>
<line x1="145.6" y1="316.3" x2="145.6" y2="319.3" stroke="#000" stroke-width="1.1"/>
<line x1="175.8" y1="316.3" x2="175.8" y2="319.3" stroke="#000" stroke-width="1.1"/>
<text x="47.28" y="328" font-size="7.5" stroke="#000" stroke-width="0.18" >MLP</text>
<text x="78.02" y="328" font-size="7.5" stroke="#000" stroke-width="0.18" >CLP</text>
<text x="108.23" y="328" font-size="7.5" stroke="#000" stroke-width="0.18" >Fr A</text>
<text x="133.14" y="328" font-size="7.5" stroke="#000" stroke-width="0.18" >Fr B&amp;C</text>
<text x="168.62" y="328" font-size="7.5" stroke="#000" stroke-width="0.18" >FrC′</text>
<line x1="168.8" y1="253.8" x2="183.8" y2="253.8" stroke="#000" stroke-width="1.15"/>
<polygon points="176.3,248.25 176.88,249.1 177.87,249.39 177.24,250.21 177.27,251.23 176.3,250.89 175.33,251.23 175.36,250.21 174.73,249.39 175.72,249.1" fill="#000"/>
<g transform="translate(21.5,294.4) rotate(-90)"><text x="-0.23" y="0" font-size="8.5" textLength="38.57" lengthAdjust="spacingAndGlyphs" stroke="#000" stroke-width="0.28">% donor cells</text></g>
<rect x="298.8" y="315.2" width="8.7" height="1" fill="#000"/>
<rect x="310.55" y="315.85" width="8.1" height="0.35" fill="#c8102e" stroke="#000" stroke-width="1.1"/>
<line x1="333.5" y1="311.3" x2="333.5" y2="310.6" stroke="#000" stroke-width="1.1"/>
<line x1="331.4" y1="310.7" x2="335.6" y2="310.7" stroke="#000" stroke-width="1.2"/>
<rect x="329.5" y="311.3" width="8" height="4.9" fill="#000"/>
<line x1="345.05" y1="310" x2="345.05" y2="308.3" stroke="#000" stroke-width="1.1"/>
<line x1="342.95" y1="308.4" x2="347.15" y2="308.4" stroke="#000" stroke-width="1.2"/>
<rect x="341.85" y="310.55" width="6.8" height="5.65" fill="#c8102e" stroke="#000" stroke-width="1.1"/>
<line x1="363.75" y1="313.3" x2="363.75" y2="312.8" stroke="#000" stroke-width="1.1"/>
<line x1="361.65" y1="312.9" x2="365.85" y2="312.9" stroke="#000" stroke-width="1.2"/>
<rect x="360" y="313.3" width="7.5" height="2.9" fill="#000"/>
<line x1="375.05" y1="313" x2="375.05" y2="312.5" stroke="#000" stroke-width="1.1"/>
<line x1="372.95" y1="312.6" x2="377.15" y2="312.6" stroke="#000" stroke-width="1.2"/>
<rect x="371.85" y="313.55" width="6.8" height="2.65" fill="#c8102e" stroke="#000" stroke-width="1.1"/>
<line x1="393.75" y1="311.8" x2="393.75" y2="311.2" stroke="#000" stroke-width="1.1"/>
<line x1="391.65" y1="311.3" x2="395.85" y2="311.3" stroke="#000" stroke-width="1.2"/>
<rect x="390" y="311.8" width="7.5" height="4.4" fill="#000"/>
<line x1="405.05" y1="312.5" x2="405.05" y2="311.8" stroke="#000" stroke-width="1.1"/>
<line x1="402.95" y1="311.9" x2="407.15" y2="311.9" stroke="#000" stroke-width="1.2"/>
<rect x="401.85" y="313.05" width="6.8" height="3.15" fill="#c8102e" stroke="#000" stroke-width="1.1"/>
<line x1="423.75" y1="254.3" x2="423.75" y2="244.5" stroke="#000" stroke-width="1.1"/>
<line x1="421.65" y1="244.6" x2="425.85" y2="244.6" stroke="#000" stroke-width="1.2"/>
<rect x="419.5" y="254.3" width="8.5" height="61.9" fill="#000"/>
<line x1="435.3" y1="267.5" x2="435.3" y2="260" stroke="#000" stroke-width="1.1"/>
<line x1="433.2" y1="260.1" x2="437.4" y2="260.1" stroke="#000" stroke-width="1.2"/>
<rect x="431.85" y="268.05" width="7.3" height="48.15" fill="#c8102e" stroke="#000" stroke-width="1.1"/>
<line x1="295.6" y1="233.65" x2="295.6" y2="316.85" stroke="#000" stroke-width="1.3"/>
<line x1="292.4" y1="316.2" x2="295.6" y2="316.2" stroke="#000" stroke-width="1.2"/>
<text x="279.52" y="318.51" font-size="6.6" textLength="10.37" lengthAdjust="spacingAndGlyphs" stroke="#000" stroke-width="0.18" >0.0</text>
<line x1="292.4" y1="288.9" x2="295.6" y2="288.9" stroke="#000" stroke-width="1.2"/>
<text x="279.61" y="291.21" font-size="6.6" textLength="10.37" lengthAdjust="spacingAndGlyphs" stroke="#000" stroke-width="0.18" >0.2</text>
<line x1="292.4" y1="261.6" x2="295.6" y2="261.6" stroke="#000" stroke-width="1.2"/>
<text x="279.44" y="263.91" font-size="6.6" textLength="10.37" lengthAdjust="spacingAndGlyphs" stroke="#000" stroke-width="0.18" >0.4</text>
<line x1="292.4" y1="234.3" x2="295.6" y2="234.3" stroke="#000" stroke-width="1.2"/>
<text x="279.56" y="236.61" font-size="6.6" textLength="10.37" lengthAdjust="spacingAndGlyphs" stroke="#000" stroke-width="0.18" >0.6</text>
<line x1="292.5" y1="316.2" x2="443.8" y2="316.2" stroke="#000" stroke-width="1.3"/>
<line x1="308.9" y1="316.2" x2="308.9" y2="319.2" stroke="#000" stroke-width="1.1"/>
<line x1="339" y1="316.2" x2="339" y2="319.2" stroke="#000" stroke-width="1.1"/>
<line x1="369.2" y1="316.2" x2="369.2" y2="319.2" stroke="#000" stroke-width="1.1"/>
<line x1="399.3" y1="316.2" x2="399.3" y2="319.2" stroke="#000" stroke-width="1.1"/>
<line x1="429.3" y1="316.2" x2="429.3" y2="319.2" stroke="#000" stroke-width="1.1"/>
<text x="301.08" y="328" font-size="7.5" stroke="#000" stroke-width="0.18" >MLP</text>
<text x="331.72" y="328" font-size="7.5" stroke="#000" stroke-width="0.18" >CLP</text>
<text x="362.03" y="328" font-size="7.5" stroke="#000" stroke-width="0.18" >Fr A</text>
<text x="386.84" y="328" font-size="7.5" stroke="#000" stroke-width="0.18" >Fr B&amp;C</text>
<text x="422.12" y="328" font-size="7.5" stroke="#000" stroke-width="0.18" >FrC′</text>
<g transform="translate(274.3,300.5) rotate(-90)"><text x="-0.53" y="0" font-size="8.5" textLength="50.01" lengthAdjust="spacingAndGlyphs" stroke="#000" stroke-width="0.28">Donor cells # x10</text><text x="49.78" y="-2.21" font-size="5.44" textLength="2.3" lengthAdjust="spacingAndGlyphs" stroke="#000" stroke-width="0.2">6</text></g>
<text x="17.28" y="349.5" font-size="10.9" font-weight="bold" stroke="#000" stroke-width="0.3" >E</text>
<text x="30.71" y="358.8" font-size="7.4" textLength="24.81" lengthAdjust="spacingAndGlyphs" stroke="#000" stroke-width="0.18" >Primary</text>
<text x="30.98" y="367.5" font-size="7.4" textLength="25.21" lengthAdjust="spacingAndGlyphs" stroke="#000" stroke-width="0.18" >donors:</text>
<text x="81.91" y="358.8" font-size="7.4" textLength="24.81" lengthAdjust="spacingAndGlyphs" stroke="#000" stroke-width="0.18" >Primary</text>
<text x="82" y="367.5" font-size="7.4" textLength="32.47" lengthAdjust="spacingAndGlyphs" stroke="#000" stroke-width="0.18" >recipients</text>
<g transform="translate(32.5,371.8)"><g fill="#000" stroke="#000" stroke-width="2.5"><ellipse cx="10.5" cy="14.5" rx="7.5" ry="5.8"/><ellipse cx="15.3" cy="9.2" rx="4.4" ry="3.7" transform="rotate(-20 15.3 9.2)"/><ellipse cx="18.5" cy="8.4" rx="1.9" ry="1.6"/></g><g fill="#3d3d3d"><ellipse cx="10.5" cy="14.5" rx="7.5" ry="5.8"/><ellipse cx="15.3" cy="9.2" rx="4.4" ry="3.7" transform="rotate(-20 15.3 9.2)"/><ellipse cx="18.5" cy="8.4" rx="1.9" ry="1.6"/></g><path d="M0.6 2.4 C3 4.4 2.8 6.4 1.5 8.2 C0.3 10.2 1 12.4 3.2 13.8" fill="none" stroke="#000" stroke-width="1.2"/><ellipse cx="13.4" cy="3.1" rx="2.1" ry="2.9" fill="#3d3d3d" stroke="#000" stroke-width="1.2"/><ellipse cx="17.6" cy="3.4" rx="2.1" ry="2.9" fill="#3d3d3d" stroke="#000" stroke-width="1.2"/><circle cx="16.3" cy="7.3" r="0.9" fill="#000"/></g>
<g transform="translate(81.4,371.8)"><g fill="#000" stroke="#000" stroke-width="2.5"><ellipse cx="10.5" cy="14.5" rx="7.5" ry="5.8"/><ellipse cx="15.3" cy="9.2" rx="4.4" ry="3.7" transform="rotate(-20 15.3 9.2)"/><ellipse cx="18.5" cy="8.4" rx="1.9" ry="1.6"/></g><g fill="#3d3d3d"><ellipse cx="10.5" cy="14.5" rx="7.5" ry="5.8"/><ellipse cx="15.3" cy="9.2" rx="4.4" ry="3.7" transform="rotate(-20 15.3 9.2)"/><ellipse cx="18.5" cy="8.4" rx="1.9" ry="1.6"/></g><path d="M0.6 2.4 C3 4.4 2.8 6.4 1.5 8.2 C0.3 10.2 1 12.4 3.2 13.8" fill="none" stroke="#000" stroke-width="1.2"/><ellipse cx="13.4" cy="3.1" rx="2.1" ry="2.9" fill="#3d3d3d" stroke="#000" stroke-width="1.2"/><ellipse cx="17.6" cy="3.4" rx="2.1" ry="2.9" fill="#3d3d3d" stroke="#000" stroke-width="1.2"/><circle cx="16.3" cy="7.3" r="0.9" fill="#000"/></g>
<g transform="translate(32.5,403.6)"><g fill="#000" stroke="#000" stroke-width="2.5"><ellipse cx="10.5" cy="14.5" rx="7.5" ry="5.8"/><ellipse cx="15.3" cy="9.2" rx="4.4" ry="3.7" transform="rotate(-20 15.3 9.2)"/><ellipse cx="18.5" cy="8.4" rx="1.9" ry="1.6"/></g><g fill="#c8102e"><ellipse cx="10.5" cy="14.5" rx="7.5" ry="5.8"/><ellipse cx="15.3" cy="9.2" rx="4.4" ry="3.7" transform="rotate(-20 15.3 9.2)"/><ellipse cx="18.5" cy="8.4" rx="1.9" ry="1.6"/></g><path d="M0.6 2.4 C3 4.4 2.8 6.4 1.5 8.2 C0.3 10.2 1 12.4 3.2 13.8" fill="none" stroke="#000" stroke-width="1.2"/><ellipse cx="13.4" cy="3.1" rx="2.1" ry="2.9" fill="#c8102e" stroke="#000" stroke-width="1.2"/><ellipse cx="17.6" cy="3.4" rx="2.1" ry="2.9" fill="#c8102e" stroke="#000" stroke-width="1.2"/><circle cx="16.3" cy="7.3" r="0.9" fill="#000"/></g>
<g transform="translate(81.8,403.6)"><g fill="#000" stroke="#000" stroke-width="2.5"><ellipse cx="10.5" cy="14.5" rx="7.5" ry="5.8"/><ellipse cx="15.3" cy="9.2" rx="4.4" ry="3.7" transform="rotate(-20 15.3 9.2)"/><ellipse cx="18.5" cy="8.4" rx="1.9" ry="1.6"/></g><g fill="#3d3d3d"><ellipse cx="10.5" cy="14.5" rx="7.5" ry="5.8"/><ellipse cx="15.3" cy="9.2" rx="4.4" ry="3.7" transform="rotate(-20 15.3 9.2)"/><ellipse cx="18.5" cy="8.4" rx="1.9" ry="1.6"/></g><path d="M0.6 2.4 C3 4.4 2.8 6.4 1.5 8.2 C0.3 10.2 1 12.4 3.2 13.8" fill="none" stroke="#000" stroke-width="1.2"/><ellipse cx="13.4" cy="3.1" rx="2.1" ry="2.9" fill="#3d3d3d" stroke="#000" stroke-width="1.2"/><ellipse cx="17.6" cy="3.4" rx="2.1" ry="2.9" fill="#3d3d3d" stroke="#000" stroke-width="1.2"/><circle cx="16.3" cy="7.3" r="0.9" fill="#000"/></g>
<line x1="55" y1="388.3" x2="74.1" y2="388.3" stroke="#000" stroke-width="1.1"/>
<polygon points="73.6,386 78.8,388.3 73.6,390.6" fill="#000"/>
<line x1="55" y1="414.2" x2="73.7" y2="414.2" stroke="#000" stroke-width="1.1"/>
<polygon points="73.2,411.9 78.4,414.2 73.2,416.5" fill="#000"/>
<text x="57.41" y="401.3" font-size="7.6" textLength="24.07" lengthAdjust="spacingAndGlyphs" stroke="#000" stroke-width="0.18" >16 wks</text>
<text x="30.1" y="432.5" font-size="7.6" textLength="27.31" lengthAdjust="spacingAndGlyphs" stroke="#000" stroke-width="0.18" >CD45.2</text>
<text x="77.61" y="432.5" font-size="7.6" textLength="26.47" lengthAdjust="spacingAndGlyphs" stroke="#000" stroke-width="0.18" >CD45.1</text>
<line x1="106.3" y1="387.8" x2="150.3" y2="387.8" stroke="#000" stroke-width="1.1"/>
<polygon points="149.8,385.5 155,387.8 149.8,390.1" fill="#000"/>
<line x1="106.3" y1="414.1" x2="150.3" y2="414.1" stroke="#000" stroke-width="1.1"/>
<polygon points="149.8,411.8 155,414.1 149.8,416.4" fill="#000"/>
<ellipse cx="125.6" cy="373.2" rx="2.3" ry="2.0" fill="#3d3d3d" stroke="#000" stroke-width="1.0"/>
<ellipse cx="133.9" cy="372.5" rx="2.3" ry="2.0" fill="#3d3d3d" stroke="#000" stroke-width="1.0"/>
<ellipse cx="129.5" cy="377.8" rx="2.3" ry="2.0" fill="#3d3d3d" stroke="#000" stroke-width="1.0"/>
<ellipse cx="124" cy="383.8" rx="2.3" ry="2.0" fill="#3d3d3d" stroke="#000" stroke-width="1.0"/>
<ellipse cx="133.9" cy="384" rx="2.3" ry="2.0" fill="#3d3d3d" stroke="#000" stroke-width="1.0"/>
<ellipse cx="126.3" cy="420.1" rx="2.3" ry="2.0" fill="#3d3d3d" stroke="#000" stroke-width="1.0"/>
<ellipse cx="134.5" cy="419.4" rx="2.3" ry="2.0" fill="#3d3d3d" stroke="#000" stroke-width="1.0"/>
<ellipse cx="130.4" cy="424.8" rx="2.3" ry="2.0" fill="#3d3d3d" stroke="#000" stroke-width="1.0"/>
<ellipse cx="124.8" cy="430.7" rx="2.3" ry="2.0" fill="#3d3d3d" stroke="#000" stroke-width="1.0"/>
<ellipse cx="134.5" cy="430.9" rx="2.3" ry="2.0" fill="#3d3d3d" stroke="#000" stroke-width="1.0"/>
<text x="116.42" y="401.3" font-size="7.6" textLength="23.86" lengthAdjust="spacingAndGlyphs" stroke="#000" stroke-width="0.18" >16 wks</text>
<text x="104.31" y="442.6" font-size="7.6" textLength="31.19" lengthAdjust="spacingAndGlyphs" stroke="#000" stroke-width="0.18" >IV, 2 x 10</text>
<text x="135.51" y="440.2" font-size="5.4" textLength="3.25" lengthAdjust="spacingAndGlyphs" >6</text>
<text x="142.67" y="442.6" font-size="7.6" stroke="#000" stroke-width="0.18" >BM cells</text>
<polygon points="146.77,364.32 154.95,363.2 152.07,368.04 155.41,372.31 153.37,375.66 156.06,378.92 149.74,375.38 151.51,373.43 146.3,368.97 148.9,366.73" fill="#f7941d" stroke="#000" stroke-width="1.05" stroke-linejoin="miter"/>
<text x="162.16" y="358.8" font-size="7.4" stroke="#000" stroke-width="0.18" >Secondary</text>
<text x="162" y="367.5" font-size="7.4" textLength="34.39" lengthAdjust="spacingAndGlyphs" stroke="#000" stroke-width="0.18" >recipients:</text>
<g transform="translate(161.4,372.8)"><g fill="#000" stroke="#000" stroke-width="2.5"><ellipse cx="10.5" cy="14.5" rx="7.5" ry="5.8"/><ellipse cx="15.3" cy="9.2" rx="4.4" ry="3.7" transform="rotate(-20 15.3 9.2)"/><ellipse cx="18.5" cy="8.4" rx="1.9" ry="1.6"/></g><g fill="#3d3d3d"><ellipse cx="10.5" cy="14.5" rx="7.5" ry="5.8"/><ellipse cx="15.3" cy="9.2" rx="4.4" ry="3.7" transform="rotate(-20 15.3 9.2)"/><ellipse cx="18.5" cy="8.4" rx="1.9" ry="1.6"/></g><path d="M0.6 2.4 C3 4.4 2.8 6.4 1.5 8.2 C0.3 10.2 1 12.4 3.2 13.8" fill="none" stroke="#000" stroke-width="1.2"/><ellipse cx="13.4" cy="3.1" rx="2.1" ry="2.9" fill="#3d3d3d" stroke="#000" stroke-width="1.2"/><ellipse cx="17.6" cy="3.4" rx="2.1" ry="2.9" fill="#3d3d3d" stroke="#000" stroke-width="1.2"/><circle cx="16.3" cy="7.3" r="0.9" fill="#000"/></g>
<g transform="translate(161.4,403.6)"><g fill="#000" stroke="#000" stroke-width="2.5"><ellipse cx="10.5" cy="14.5" rx="7.5" ry="5.8"/><ellipse cx="15.3" cy="9.2" rx="4.4" ry="3.7" transform="rotate(-20 15.3 9.2)"/><ellipse cx="18.5" cy="8.4" rx="1.9" ry="1.6"/></g><g fill="#3d3d3d"><ellipse cx="10.5" cy="14.5" rx="7.5" ry="5.8"/><ellipse cx="15.3" cy="9.2" rx="4.4" ry="3.7" transform="rotate(-20 15.3 9.2)"/><ellipse cx="18.5" cy="8.4" rx="1.9" ry="1.6"/></g><path d="M0.6 2.4 C3 4.4 2.8 6.4 1.5 8.2 C0.3 10.2 1 12.4 3.2 13.8" fill="none" stroke="#000" stroke-width="1.2"/><ellipse cx="13.4" cy="3.1" rx="2.1" ry="2.9" fill="#3d3d3d" stroke="#000" stroke-width="1.2"/><ellipse cx="17.6" cy="3.4" rx="2.1" ry="2.9" fill="#3d3d3d" stroke="#000" stroke-width="1.2"/><circle cx="16.3" cy="7.3" r="0.9" fill="#000"/></g>
<text x="162.12" y="432.5" font-size="7.6" stroke="#000" stroke-width="0.18" >CD45.1</text>
<line x1="186.3" y1="398" x2="214.7" y2="398" stroke="#000" stroke-width="1.1"/>
<polygon points="214.2,395.7 219.4,398 214.2,400.3" fill="#000"/>
<text x="223.93" y="396" font-size="7.6" textLength="17.25" lengthAdjust="spacingAndGlyphs" stroke="#000" stroke-width="0.18" >Flow</text>
<text x="218.47" y="405.6" font-size="7.6" textLength="28.11" lengthAdjust="spacingAndGlyphs" stroke="#000" stroke-width="0.18" >analysis</text>
<text x="284.28" y="350.5" font-size="10.9" font-weight="bold" stroke="#000" stroke-width="0.3" >F</text>
<rect x="339.6" y="350.8" width="11.3" height="6.8" fill="#000"/>
<rect x="340.15" y="361.85" width="10.2" height="5.4" fill="#c8102e" stroke="#000" stroke-width="1.1"/>
<text x="355.07" y="356.6" font-size="8" textLength="10.99" lengthAdjust="spacingAndGlyphs" stroke="#000" stroke-width="0.18" >WT</text>
<line x1="366.6" y1="353.9" x2="373.1" y2="353.9" stroke="#000" stroke-width="1"/>
<polygon points="372.6,352.2 376.2,353.9 372.6,355.6" fill="#000"/>
<text x="377.67" y="356.6" font-size="8" textLength="11.5" lengthAdjust="spacingAndGlyphs" stroke="#000" stroke-width="0.18" >WT</text>
<line x1="390" y1="353.9" x2="396.7" y2="353.9" stroke="#000" stroke-width="1"/>
<polygon points="396.2,352.2 399.8,353.9 396.2,355.6" fill="#000"/>
<text x="401.37" y="356.6" font-size="8" textLength="12.31" lengthAdjust="spacingAndGlyphs" stroke="#000" stroke-width="0.18" >WT</text>
<text x="354.74" y="367" font-size="8" textLength="10.54" lengthAdjust="spacingAndGlyphs" stroke="#000" stroke-width="0.18" >QT</text>
<line x1="366.6" y1="364.3" x2="373.1" y2="364.3" stroke="#000" stroke-width="1"/>
<polygon points="372.6,362.6 376.2,364.3 372.6,366" fill="#000"/>
<text x="378.27" y="367" font-size="8" textLength="11.19" lengthAdjust="spacingAndGlyphs" stroke="#000" stroke-width="0.18" >WT</text>
<line x1="390.4" y1="364.3" x2="396.7" y2="364.3" stroke="#000" stroke-width="1"/>
<polygon points="396.2,362.6 399.8,364.3 396.2,366" fill="#000"/>
<text x="401.37" y="367" font-size="8" textLength="12.31" lengthAdjust="spacingAndGlyphs" stroke="#000" stroke-width="0.18" >WT</text>
<line x1="316.55" y1="390" x2="316.55" y2="388.8" stroke="#000" stroke-width="1.1"/>
<line x1="314.45" y1="388.9" x2="318.65" y2="388.9" stroke="#000" stroke-width="1.2"/>
<rect x="311.9" y="390" width="9.3" height="53.6" fill="#000"/>
<line x1="330.2" y1="383.8" x2="330.2" y2="381.3" stroke="#000" stroke-width="1.1"/>
<line x1="328.1" y1="381.4" x2="332.3" y2="381.4" stroke="#000" stroke-width="1.2"/>
<rect x="325.95" y="384.35" width="8.9" height="59.25" fill="#c8102e" stroke="#000" stroke-width="1.1"/>
<line x1="308.3" y1="372.95" x2="308.3" y2="444.25" stroke="#000" stroke-width="1.3"/>
<line x1="305.1" y1="443.6" x2="308.3" y2="443.6" stroke="#000" stroke-width="1.2"/>
<text x="298.09" y="446.3" font-size="7.7" textLength="4.62" lengthAdjust="spacingAndGlyphs" stroke="#000" stroke-width="0.18" >0</text>
<line x1="305.1" y1="429.6" x2="308.3" y2="429.6" stroke="#000" stroke-width="1.2"/>
<text x="293.47" y="432.3" font-size="7.7" textLength="9.25" lengthAdjust="spacingAndGlyphs" stroke="#000" stroke-width="0.18" >10</text>
<line x1="305.1" y1="415.6" x2="308.3" y2="415.6" stroke="#000" stroke-width="1.2"/>
<text x="293.47" y="418.3" font-size="7.7" textLength="9.25" lengthAdjust="spacingAndGlyphs" stroke="#000" stroke-width="0.18" >20</text>
<line x1="305.1" y1="401.6" x2="308.3" y2="401.6" stroke="#000" stroke-width="1.2"/>
<text x="293.47" y="404.3" font-size="7.7" textLength="9.25" lengthAdjust="spacingAndGlyphs" stroke="#000" stroke-width="0.18" >30</text>
<line x1="305.1" y1="387.6" x2="308.3" y2="387.6" stroke="#000" stroke-width="1.2"/>
<text x="293.47" y="390.3" font-size="7.7" textLength="9.25" lengthAdjust="spacingAndGlyphs" stroke="#000" stroke-width="0.18" >40</text>
<line x1="305.1" y1="373.6" x2="308.3" y2="373.6" stroke="#000" stroke-width="1.2"/>
<text x="293.47" y="376.3" font-size="7.7" textLength="9.25" lengthAdjust="spacingAndGlyphs" stroke="#000" stroke-width="0.18" >50</text>
<line x1="305.2" y1="443.6" x2="338.8" y2="443.6" stroke="#000" stroke-width="1.3"/>
<line x1="316.5" y1="443.6" x2="316.5" y2="446.6" stroke="#000" stroke-width="1.1"/>
<line x1="330" y1="443.6" x2="330" y2="446.6" stroke="#000" stroke-width="1.1"/>
<line x1="315" y1="378" x2="330.8" y2="378" stroke="#000" stroke-width="1.15"/>
<polygon points="322.9,372.45 323.48,373.3 324.47,373.59 323.84,374.41 323.87,375.43 322.9,375.09 321.93,375.43 321.96,374.41 321.33,373.59 322.32,373.3" fill="#000"/>
<g transform="translate(289.2,445.7) rotate(-90)"><text x="-0.15" y="0" font-size="8.5" textLength="59.63" lengthAdjust="spacingAndGlyphs" stroke="#000" stroke-width="0.28">Total BM cells # x10</text><text x="59.8" y="-2.21" font-size="5.44" textLength="2.39" lengthAdjust="spacingAndGlyphs" stroke="#000" stroke-width="0.2">6</text></g>
<line x1="391.65" y1="397" x2="391.65" y2="394.5" stroke="#000" stroke-width="1.1"/>
<line x1="389.55" y1="394.6" x2="393.75" y2="394.6" stroke="#000" stroke-width="1.2"/>
<rect x="387" y="397" width="9.3" height="47.5" fill="#000"/>
<line x1="404.9" y1="391.3" x2="404.9" y2="389.3" stroke="#000" stroke-width="1.1"/>
<line x1="402.8" y1="389.4" x2="407" y2="389.4" stroke="#000" stroke-width="1.2"/>
<rect x="400.85" y="391.85" width="8.5" height="52.65" fill="#c8102e" stroke="#000" stroke-width="1.1"/>
<line x1="383.3" y1="374.65" x2="383.3" y2="445.15" stroke="#000" stroke-width="1.3"/>
<line x1="380.1" y1="444.5" x2="383.3" y2="444.5" stroke="#000" stroke-width="1.2"/>
<text x="373.09" y="447.19" font-size="7.7" textLength="4.62" lengthAdjust="spacingAndGlyphs" stroke="#000" stroke-width="0.18" >0</text>
<line x1="380.1" y1="430.66" x2="383.3" y2="430.66" stroke="#000" stroke-width="1.2"/>
<text x="368.47" y="433.36" font-size="7.7" textLength="9.25" lengthAdjust="spacingAndGlyphs" stroke="#000" stroke-width="0.18" >10</text>
<line x1="380.1" y1="416.82" x2="383.3" y2="416.82" stroke="#000" stroke-width="1.2"/>
<text x="368.47" y="419.51" font-size="7.7" textLength="9.25" lengthAdjust="spacingAndGlyphs" stroke="#000" stroke-width="0.18" >20</text>
<line x1="380.1" y1="402.98" x2="383.3" y2="402.98" stroke="#000" stroke-width="1.2"/>
<text x="368.47" y="405.68" font-size="7.7" textLength="9.25" lengthAdjust="spacingAndGlyphs" stroke="#000" stroke-width="0.18" >30</text>
<line x1="380.1" y1="389.14" x2="383.3" y2="389.14" stroke="#000" stroke-width="1.2"/>
<text x="368.47" y="391.83" font-size="7.7" textLength="9.25" lengthAdjust="spacingAndGlyphs" stroke="#000" stroke-width="0.18" >40</text>
<line x1="380.1" y1="375.3" x2="383.3" y2="375.3" stroke="#000" stroke-width="1.2"/>
<text x="368.47" y="378" font-size="7.7" textLength="9.25" lengthAdjust="spacingAndGlyphs" stroke="#000" stroke-width="0.18" >50</text>
<line x1="380.2" y1="444.5" x2="413.8" y2="444.5" stroke="#000" stroke-width="1.3"/>
<line x1="391.7" y1="444.5" x2="391.7" y2="447.5" stroke="#000" stroke-width="1.1"/>
<line x1="404.8" y1="444.5" x2="404.8" y2="447.5" stroke="#000" stroke-width="1.1"/>
<g transform="translate(365.5,435.8) rotate(-90)"><text x="-0.54" y="0" font-size="8.5" textLength="50.58" lengthAdjust="spacingAndGlyphs" stroke="#000" stroke-width="0.28">Donor cells # x10</text><text x="50.35" y="-2.21" font-size="5.44" textLength="2.33" lengthAdjust="spacingAndGlyphs" stroke="#000" stroke-width="0.2">6</text></g>
<text x="17.56" y="463.8" font-size="10.9" font-weight="bold" stroke="#000" stroke-width="0.3" >G</text>
<line x1="43.1" y1="487.5" x2="43.1" y2="485" stroke="#000" stroke-width="1.1"/>
<line x1="41" y1="485.1" x2="45.2" y2="485.1" stroke="#000" stroke-width="1.2"/>
<rect x="38.3" y="487.5" width="9.6" height="53" fill="#000"/>
<line x1="56.4" y1="477" x2="56.4" y2="475.5" stroke="#000" stroke-width="1.1"/>
<line x1="54.3" y1="475.6" x2="58.5" y2="475.6" stroke="#000" stroke-width="1.2"/>
<rect x="52.75" y="477.55" width="7.7" height="62.95" fill="#c8102e" stroke="#000" stroke-width="1.1"/>
<line x1="34.2" y1="470.95" x2="34.2" y2="541.15" stroke="#000" stroke-width="1.3"/>
<line x1="31" y1="540.5" x2="34.2" y2="540.5" stroke="#000" stroke-width="1.2"/>
<text x="24.52" y="543.05" font-size="7.3" textLength="4.38" lengthAdjust="spacingAndGlyphs" stroke="#000" stroke-width="0.18" >0</text>
<line x1="31" y1="523.27" x2="34.2" y2="523.27" stroke="#000" stroke-width="1.2"/>
<text x="20.13" y="525.83" font-size="7.3" textLength="8.77" lengthAdjust="spacingAndGlyphs" stroke="#000" stroke-width="0.18" >20</text>
<line x1="31" y1="506.05" x2="34.2" y2="506.05" stroke="#000" stroke-width="1.2"/>
<text x="20.13" y="508.61" font-size="7.3" textLength="8.77" lengthAdjust="spacingAndGlyphs" stroke="#000" stroke-width="0.18" >40</text>
<line x1="31" y1="488.83" x2="34.2" y2="488.83" stroke="#000" stroke-width="1.2"/>
<text x="20.13" y="491.38" font-size="7.3" textLength="8.77" lengthAdjust="spacingAndGlyphs" stroke="#000" stroke-width="0.18" >60</text>
<line x1="31" y1="471.6" x2="34.2" y2="471.6" stroke="#000" stroke-width="1.2"/>
<text x="20.13" y="474.16" font-size="7.3" textLength="8.77" lengthAdjust="spacingAndGlyphs" stroke="#000" stroke-width="0.18" >80</text>
<line x1="31.1" y1="540.5" x2="64.8" y2="540.5" stroke="#000" stroke-width="1.3"/>
<line x1="42.9" y1="540.5" x2="42.9" y2="543.5" stroke="#000" stroke-width="1.1"/>
<line x1="56.4" y1="540.5" x2="56.4" y2="543.5" stroke="#000" stroke-width="1.1"/>
<text x="24.85" y="553.8" font-size="7.85" stroke="#000" stroke-width="0.18" >Myeloid cells</text>
<line x1="41.3" y1="472.5" x2="56.8" y2="472.5" stroke="#000" stroke-width="1.15"/>
<polygon points="49.05,466.95 49.63,467.8 50.62,468.09 49.99,468.91 50.02,469.93 49.05,469.59 48.08,469.93 48.11,468.91 47.48,468.09 48.47,467.8" fill="#000"/>
<g transform="translate(15,524.8) rotate(-90)"><text x="-0.23" y="0" font-size="8.5" textLength="38.57" lengthAdjust="spacingAndGlyphs" stroke="#000" stroke-width="0.28">% donor cells</text></g>
<line x1="99.05" y1="493.3" x2="99.05" y2="487.5" stroke="#000" stroke-width="1.1"/>
<line x1="96.95" y1="487.6" x2="101.15" y2="487.6" stroke="#000" stroke-width="1.2"/>
<rect x="94.3" y="493.3" width="9.5" height="47.1" fill="#000"/>
<line x1="111.9" y1="512.5" x2="111.9" y2="509.5" stroke="#000" stroke-width="1.1"/>
<line x1="109.8" y1="509.6" x2="114" y2="509.6" stroke="#000" stroke-width="1.2"/>
<rect x="108.05" y="513.05" width="8.1" height="27.35" fill="#c8102e" stroke="#000" stroke-width="1.1"/>
<line x1="90.1" y1="470.95" x2="90.1" y2="541.05" stroke="#000" stroke-width="1.3"/>
<line x1="86.9" y1="540.4" x2="90.1" y2="540.4" stroke="#000" stroke-width="1.2"/>
<text x="80.42" y="542.95" font-size="7.3" textLength="4.38" lengthAdjust="spacingAndGlyphs" stroke="#000" stroke-width="0.18" >0</text>
<line x1="86.9" y1="523.2" x2="90.1" y2="523.2" stroke="#000" stroke-width="1.2"/>
<text x="76.03" y="525.75" font-size="7.3" textLength="8.77" lengthAdjust="spacingAndGlyphs" stroke="#000" stroke-width="0.18" >10</text>
<line x1="86.9" y1="506" x2="90.1" y2="506" stroke="#000" stroke-width="1.2"/>
<text x="76.03" y="508.56" font-size="7.3" textLength="8.77" lengthAdjust="spacingAndGlyphs" stroke="#000" stroke-width="0.18" >20</text>
<line x1="86.9" y1="488.8" x2="90.1" y2="488.8" stroke="#000" stroke-width="1.2"/>
<text x="76.03" y="491.36" font-size="7.3" textLength="8.77" lengthAdjust="spacingAndGlyphs" stroke="#000" stroke-width="0.18" >30</text>
<line x1="86.9" y1="471.6" x2="90.1" y2="471.6" stroke="#000" stroke-width="1.2"/>
<text x="76.03" y="474.16" font-size="7.3" textLength="8.77" lengthAdjust="spacingAndGlyphs" stroke="#000" stroke-width="0.18" >40</text>
<line x1="87" y1="540.4" x2="120" y2="540.4" stroke="#000" stroke-width="1.3"/>
<line x1="98.8" y1="540.4" x2="98.8" y2="543.4" stroke="#000" stroke-width="1.1"/>
<line x1="112" y1="540.4" x2="112" y2="543.4" stroke="#000" stroke-width="1.1"/>
<text x="93.04" y="553.8" font-size="7.85" stroke="#000" stroke-width="0.18" >B-cells</text>
<line x1="98.3" y1="483.8" x2="113.3" y2="483.8" stroke="#000" stroke-width="1.15"/>
<polygon points="105.8,478.25 106.38,479.1 107.37,479.39 106.74,480.21 106.77,481.23 105.8,480.89 104.83,481.23 104.86,480.21 104.23,479.39 105.22,479.1" fill="#000"/>
<line x1="153.4" y1="485" x2="153.4" y2="477" stroke="#000" stroke-width="1.1"/>
<line x1="151.3" y1="477.1" x2="155.5" y2="477.1" stroke="#000" stroke-width="1.2"/>
<rect x="148.8" y="485" width="9.2" height="55.8" fill="#000"/>
<line x1="166.4" y1="506.5" x2="166.4" y2="502.5" stroke="#000" stroke-width="1.1"/>
<line x1="164.3" y1="502.6" x2="168.5" y2="502.6" stroke="#000" stroke-width="1.2"/>
<rect x="162.55" y="507.05" width="8.1" height="33.75" fill="#c8102e" stroke="#000" stroke-width="1.1"/>
<line x1="144.5" y1="470.65" x2="144.5" y2="541.45" stroke="#000" stroke-width="1.3"/>
<line x1="141.3" y1="540.8" x2="144.5" y2="540.8" stroke="#000" stroke-width="1.2"/>
<text x="134.82" y="543.35" font-size="7.3" textLength="4.38" lengthAdjust="spacingAndGlyphs" stroke="#000" stroke-width="0.18" >0</text>
<line x1="141.3" y1="517.63" x2="144.5" y2="517.63" stroke="#000" stroke-width="1.2"/>
<text x="134.85" y="520.19" font-size="7.3" textLength="4.38" lengthAdjust="spacingAndGlyphs" stroke="#000" stroke-width="0.18" >5</text>
<line x1="141.3" y1="494.47" x2="144.5" y2="494.47" stroke="#000" stroke-width="1.2"/>
<text x="130.43" y="497.02" font-size="7.3" textLength="8.77" lengthAdjust="spacingAndGlyphs" stroke="#000" stroke-width="0.18" >10</text>
<line x1="141.3" y1="471.3" x2="144.5" y2="471.3" stroke="#000" stroke-width="1.2"/>
<text x="130.46" y="473.86" font-size="7.3" textLength="8.77" lengthAdjust="spacingAndGlyphs" stroke="#000" stroke-width="0.18" >15</text>
<line x1="141.4" y1="540.8" x2="173.8" y2="540.8" stroke="#000" stroke-width="1.3"/>
<line x1="153.3" y1="540.8" x2="153.3" y2="543.8" stroke="#000" stroke-width="1.1"/>
<line x1="166.3" y1="540.8" x2="166.3" y2="543.8" stroke="#000" stroke-width="1.1"/>
<text x="141.85" y="553.8" font-size="7.85" stroke="#000" stroke-width="0.18" >Pre-B cells</text>
<line x1="212.75" y1="490" x2="212.75" y2="480.5" stroke="#000" stroke-width="1.1"/>
<line x1="210.65" y1="480.6" x2="214.85" y2="480.6" stroke="#000" stroke-width="1.2"/>
<rect x="208" y="490" width="9.5" height="50.4" fill="#000"/>
<line x1="225.9" y1="508.3" x2="225.9" y2="502" stroke="#000" stroke-width="1.1"/>
<line x1="223.8" y1="502.1" x2="228" y2="502.1" stroke="#000" stroke-width="1.2"/>
<rect x="221.85" y="508.85" width="8.5" height="31.55" fill="#c8102e" stroke="#000" stroke-width="1.1"/>
<line x1="203.8" y1="470.95" x2="203.8" y2="541.05" stroke="#000" stroke-width="1.3"/>
<line x1="200.6" y1="540.4" x2="203.8" y2="540.4" stroke="#000" stroke-width="1.2"/>
<text x="187.54" y="542.95" font-size="7.3" textLength="10.96" lengthAdjust="spacingAndGlyphs" stroke="#000" stroke-width="0.18" >0.0</text>
<line x1="200.6" y1="523.2" x2="203.8" y2="523.2" stroke="#000" stroke-width="1.2"/>
<text x="187.64" y="525.75" font-size="7.3" textLength="10.96" lengthAdjust="spacingAndGlyphs" stroke="#000" stroke-width="0.18" >0.2</text>
<line x1="200.6" y1="506" x2="203.8" y2="506" stroke="#000" stroke-width="1.2"/>
<text x="187.46" y="508.56" font-size="7.3" textLength="10.96" lengthAdjust="spacingAndGlyphs" stroke="#000" stroke-width="0.18" >0.4</text>
<line x1="200.6" y1="488.8" x2="203.8" y2="488.8" stroke="#000" stroke-width="1.2"/>
<text x="187.59" y="491.36" font-size="7.3" textLength="10.96" lengthAdjust="spacingAndGlyphs" stroke="#000" stroke-width="0.18" >0.6</text>
<line x1="200.6" y1="471.6" x2="203.8" y2="471.6" stroke="#000" stroke-width="1.2"/>
<text x="187.59" y="474.16" font-size="7.3" textLength="10.96" lengthAdjust="spacingAndGlyphs" stroke="#000" stroke-width="0.18" >0.8</text>
<line x1="200.7" y1="540.4" x2="234.5" y2="540.4" stroke="#000" stroke-width="1.3"/>
<line x1="212.5" y1="540.4" x2="212.5" y2="543.4" stroke="#000" stroke-width="1.1"/>
<line x1="226.3" y1="540.4" x2="226.3" y2="543.4" stroke="#000" stroke-width="1.1"/>
<text x="201.25" y="553.8" font-size="7.85" stroke="#000" stroke-width="0.18" >Pro-B cells</text>
<line x1="314.15" y1="504.3" x2="314.15" y2="500.5" stroke="#000" stroke-width="1.1"/>
<line x1="312.05" y1="500.6" x2="316.25" y2="500.6" stroke="#000" stroke-width="1.2"/>
<rect x="309.5" y="504.3" width="9.3" height="35.7" fill="#000"/>
<line x1="327.4" y1="491.3" x2="327.4" y2="488.3" stroke="#000" stroke-width="1.1"/>
<line x1="325.3" y1="488.4" x2="329.5" y2="488.4" stroke="#000" stroke-width="1.2"/>
<rect x="323.55" y="491.85" width="8.1" height="48.15" fill="#c8102e" stroke="#000" stroke-width="1.1"/>
<line x1="305.8" y1="469.85" x2="305.8" y2="540.65" stroke="#000" stroke-width="1.3"/>
<line x1="302.6" y1="540" x2="305.8" y2="540" stroke="#000" stroke-width="1.2"/>
<text x="296.12" y="542.55" font-size="7.3" textLength="4.38" lengthAdjust="spacingAndGlyphs" stroke="#000" stroke-width="0.18" >0</text>
<line x1="302.6" y1="522.62" x2="305.8" y2="522.62" stroke="#000" stroke-width="1.2"/>
<text x="291.73" y="525.18" font-size="7.3" textLength="8.77" lengthAdjust="spacingAndGlyphs" stroke="#000" stroke-width="0.18" >10</text>
<line x1="302.6" y1="505.25" x2="305.8" y2="505.25" stroke="#000" stroke-width="1.2"/>
<text x="291.73" y="507.81" font-size="7.3" textLength="8.77" lengthAdjust="spacingAndGlyphs" stroke="#000" stroke-width="0.18" >20</text>
<line x1="302.6" y1="487.88" x2="305.8" y2="487.88" stroke="#000" stroke-width="1.2"/>
<text x="291.73" y="490.43" font-size="7.3" textLength="8.77" lengthAdjust="spacingAndGlyphs" stroke="#000" stroke-width="0.18" >30</text>
<line x1="302.6" y1="470.5" x2="305.8" y2="470.5" stroke="#000" stroke-width="1.2"/>
<text x="291.73" y="473.06" font-size="7.3" textLength="8.77" lengthAdjust="spacingAndGlyphs" stroke="#000" stroke-width="0.18" >40</text>
<line x1="302.7" y1="540" x2="335" y2="540" stroke="#000" stroke-width="1.3"/>
<line x1="313.8" y1="540" x2="313.8" y2="543" stroke="#000" stroke-width="1.1"/>
<line x1="327" y1="540" x2="327" y2="543" stroke="#000" stroke-width="1.1"/>
<text x="301.15" y="553.8" font-size="7.85" stroke="#000" stroke-width="0.18" >Myeloid cells</text>
<line x1="311.8" y1="484.5" x2="328" y2="484.5" stroke="#000" stroke-width="1.15"/>
<polygon points="319.9,478.95 320.48,479.8 321.47,480.09 320.84,480.91 320.87,481.93 319.9,481.59 318.93,481.93 318.96,480.91 318.33,480.09 319.32,479.8" fill="#000"/>
<g transform="translate(286.4,533.4) rotate(-90)"><text x="-0.55" y="0" font-size="8.5" textLength="51.35" lengthAdjust="spacingAndGlyphs" stroke="#000" stroke-width="0.28">Donor cells # x10</text><text x="51.12" y="-2.21" font-size="5.44" textLength="2.37" lengthAdjust="spacingAndGlyphs" stroke="#000" stroke-width="0.2">6</text></g>
<line x1="371.65" y1="498" x2="371.65" y2="494.5" stroke="#000" stroke-width="1.1"/>
<line x1="369.55" y1="494.6" x2="373.75" y2="494.6" stroke="#000" stroke-width="1.2"/>
<rect x="367" y="498" width="9.3" height="42" fill="#000"/>
<line x1="384.9" y1="511.3" x2="384.9" y2="508.3" stroke="#000" stroke-width="1.1"/>
<line x1="382.8" y1="508.4" x2="387" y2="508.4" stroke="#000" stroke-width="1.2"/>
<rect x="381.05" y="511.85" width="8.1" height="28.15" fill="#c8102e" stroke="#000" stroke-width="1.1"/>
<line x1="362.5" y1="469.85" x2="362.5" y2="540.65" stroke="#000" stroke-width="1.3"/>
<line x1="359.3" y1="540" x2="362.5" y2="540" stroke="#000" stroke-width="1.2"/>
<text x="352.82" y="542.55" font-size="7.3" textLength="4.38" lengthAdjust="spacingAndGlyphs" stroke="#000" stroke-width="0.18" >0</text>
<line x1="359.3" y1="516.83" x2="362.5" y2="516.83" stroke="#000" stroke-width="1.2"/>
<text x="352.85" y="519.39" font-size="7.3" textLength="4.38" lengthAdjust="spacingAndGlyphs" stroke="#000" stroke-width="0.18" >5</text>
<line x1="359.3" y1="493.67" x2="362.5" y2="493.67" stroke="#000" stroke-width="1.2"/>
<text x="348.43" y="496.22" font-size="7.3" textLength="8.77" lengthAdjust="spacingAndGlyphs" stroke="#000" stroke-width="0.18" >10</text>
<line x1="359.3" y1="470.5" x2="362.5" y2="470.5" stroke="#000" stroke-width="1.2"/>
<text x="348.46" y="473.06" font-size="7.3" textLength="8.77" lengthAdjust="spacingAndGlyphs" stroke="#000" stroke-width="0.18" >15</text>
<line x1="359.4" y1="540" x2="393.8" y2="540" stroke="#000" stroke-width="1.3"/>
<line x1="371.3" y1="540" x2="371.3" y2="543" stroke="#000" stroke-width="1.1"/>
<line x1="385" y1="540" x2="385" y2="543" stroke="#000" stroke-width="1.1"/>
<text x="369.64" y="553.8" font-size="7.85" stroke="#000" stroke-width="0.18" >B-cells</text>
<line x1="370.8" y1="492.5" x2="385.5" y2="492.5" stroke="#000" stroke-width="1.15"/>
<polygon points="378.15,486.95 378.73,487.8 379.72,488.09 379.09,488.91 379.12,489.93 378.15,489.59 377.18,489.93 377.21,488.91 376.58,488.09 377.57,487.8" fill="#000"/>
<line x1="427.75" y1="484.5" x2="427.75" y2="478.8" stroke="#000" stroke-width="1.1"/>
<line x1="425.65" y1="478.9" x2="429.85" y2="478.9" stroke="#000" stroke-width="1.2"/>
<rect x="423" y="484.5" width="9.5" height="55.5" fill="#000"/>
<line x1="440.65" y1="501.3" x2="440.65" y2="496.8" stroke="#000" stroke-width="1.1"/>
<line x1="438.55" y1="496.9" x2="442.75" y2="496.9" stroke="#000" stroke-width="1.2"/>
<rect x="436.85" y="501.85" width="8" height="38.15" fill="#c8102e" stroke="#000" stroke-width="1.1"/>
<line x1="419" y1="469.85" x2="419" y2="540.65" stroke="#000" stroke-width="1.3"/>
<line x1="415.8" y1="540" x2="419" y2="540" stroke="#000" stroke-width="1.2"/>
<text x="409.32" y="542.55" font-size="7.3" textLength="4.38" lengthAdjust="spacingAndGlyphs" stroke="#000" stroke-width="0.18" >0</text>
<line x1="415.8" y1="526.1" x2="419" y2="526.1" stroke="#000" stroke-width="1.2"/>
<text x="409.39" y="528.65" font-size="7.3" textLength="4.38" lengthAdjust="spacingAndGlyphs" stroke="#000" stroke-width="0.18" >1</text>
<line x1="415.8" y1="512.2" x2="419" y2="512.2" stroke="#000" stroke-width="1.2"/>
<text x="409.41" y="514.75" font-size="7.3" textLength="4.38" lengthAdjust="spacingAndGlyphs" stroke="#000" stroke-width="0.18" >2</text>
<line x1="415.8" y1="498.3" x2="419" y2="498.3" stroke="#000" stroke-width="1.2"/>
<text x="409.36" y="500.86" font-size="7.3" textLength="4.38" lengthAdjust="spacingAndGlyphs" stroke="#000" stroke-width="0.18" >3</text>
<line x1="415.8" y1="484.4" x2="419" y2="484.4" stroke="#000" stroke-width="1.2"/>
<text x="409.24" y="486.95" font-size="7.3" textLength="4.38" lengthAdjust="spacingAndGlyphs" stroke="#000" stroke-width="0.18" >4</text>
<line x1="415.8" y1="470.5" x2="419" y2="470.5" stroke="#000" stroke-width="1.2"/>
<text x="409.35" y="473.06" font-size="7.3" textLength="4.38" lengthAdjust="spacingAndGlyphs" stroke="#000" stroke-width="0.18" >5</text>
<line x1="415.9" y1="540" x2="449.5" y2="540" stroke="#000" stroke-width="1.3"/>
<line x1="427.5" y1="540" x2="427.5" y2="543" stroke="#000" stroke-width="1.1"/>
<line x1="440.8" y1="540" x2="440.8" y2="543" stroke="#000" stroke-width="1.1"/>
<text x="418.85" y="553.8" font-size="7.85" stroke="#000" stroke-width="0.18" >Pre-B cells</text>
<line x1="488.9" y1="485.7" x2="488.9" y2="477.6" stroke="#000" stroke-width="1.1"/>
<line x1="486.8" y1="477.7" x2="491" y2="477.7" stroke="#000" stroke-width="1.2"/>
<rect x="484.3" y="485.7" width="9.2" height="54.5" fill="#000"/>
<line x1="501.55" y1="502" x2="501.55" y2="495" stroke="#000" stroke-width="1.1"/>
<line x1="499.45" y1="495.1" x2="503.65" y2="495.1" stroke="#000" stroke-width="1.2"/>
<rect x="497.65" y="502.55" width="8.2" height="37.65" fill="#c8102e" stroke="#000" stroke-width="1.1"/>
<line x1="480.6" y1="469.85" x2="480.6" y2="540.85" stroke="#000" stroke-width="1.3"/>
<line x1="477.4" y1="540.2" x2="480.6" y2="540.2" stroke="#000" stroke-width="1.2"/>
<text x="459.96" y="542.75" font-size="7.3" textLength="15.34" lengthAdjust="spacingAndGlyphs" stroke="#000" stroke-width="0.18" >0.00</text>
<line x1="477.4" y1="526.26" x2="480.6" y2="526.26" stroke="#000" stroke-width="1.2"/>
<text x="459.99" y="528.81" font-size="7.3" textLength="15.34" lengthAdjust="spacingAndGlyphs" stroke="#000" stroke-width="0.18" >0.05</text>
<line x1="477.4" y1="512.32" x2="480.6" y2="512.32" stroke="#000" stroke-width="1.2"/>
<text x="459.96" y="514.88" font-size="7.3" textLength="15.34" lengthAdjust="spacingAndGlyphs" stroke="#000" stroke-width="0.18" >0.10</text>
<line x1="477.4" y1="498.38" x2="480.6" y2="498.38" stroke="#000" stroke-width="1.2"/>
<text x="459.99" y="500.94" font-size="7.3" textLength="15.34" lengthAdjust="spacingAndGlyphs" stroke="#000" stroke-width="0.18" >0.15</text>
<line x1="477.4" y1="484.44" x2="480.6" y2="484.44" stroke="#000" stroke-width="1.2"/>
<text x="459.96" y="487" font-size="7.3" textLength="15.34" lengthAdjust="spacingAndGlyphs" stroke="#000" stroke-width="0.18" >0.20</text>
<line x1="477.4" y1="470.5" x2="480.6" y2="470.5" stroke="#000" stroke-width="1.2"/>
<text x="459.99" y="473.06" font-size="7.3" textLength="15.34" lengthAdjust="spacingAndGlyphs" stroke="#000" stroke-width="0.18" >0.25</text>
<line x1="477.5" y1="540.2" x2="510.6" y2="540.2" stroke="#000" stroke-width="1.3"/>
<line x1="488.4" y1="540.2" x2="488.4" y2="543.2" stroke="#000" stroke-width="1.1"/>
<line x1="501.5" y1="540.2" x2="501.5" y2="543.2" stroke="#000" stroke-width="1.1"/>
<text x="474.75" y="553.8" font-size="7.85" stroke="#000" stroke-width="0.18" >Pro-B cells</text>
<text x="17.28" y="575" font-size="10.9" font-weight="bold" stroke="#000" stroke-width="0.3" >H</text>
<rect x="48" y="658" width="8.3" height="1" fill="#000"/>
<rect x="59.55" y="658.35" width="7.8" height="0.65" fill="#c8102e" stroke="#000" stroke-width="1.1"/>
<line x1="82.15" y1="657.5" x2="82.15" y2="657" stroke="#000" stroke-width="1.1"/>
<line x1="80.05" y1="657.1" x2="84.25" y2="657.1" stroke="#000" stroke-width="1.2"/>
<rect x="78" y="657.5" width="8.3" height="1.5" fill="#000"/>
<line x1="93" y1="656.3" x2="93" y2="655.8" stroke="#000" stroke-width="1.1"/>
<line x1="90.9" y1="655.9" x2="95.1" y2="655.9" stroke="#000" stroke-width="1.2"/>
<rect x="89.55" y="656.85" width="7.3" height="2.15" fill="#c8102e" stroke="#000" stroke-width="1.1"/>
<line x1="112.15" y1="643.8" x2="112.15" y2="642.8" stroke="#000" stroke-width="1.1"/>
<line x1="110.05" y1="642.9" x2="114.25" y2="642.9" stroke="#000" stroke-width="1.2"/>
<rect x="108" y="643.8" width="8.3" height="15.2" fill="#000"/>
<line x1="123.25" y1="636.8" x2="123.25" y2="636" stroke="#000" stroke-width="1.1"/>
<line x1="121.15" y1="636.1" x2="125.35" y2="636.1" stroke="#000" stroke-width="1.2"/>
<rect x="120.05" y="637.35" width="6.8" height="21.65" fill="#c8102e" stroke="#000" stroke-width="1.1"/>
<line x1="141.5" y1="635" x2="141.5" y2="630.8" stroke="#000" stroke-width="1.1"/>
<line x1="139.4" y1="630.9" x2="143.6" y2="630.9" stroke="#000" stroke-width="1.2"/>
<rect x="137.5" y="635" width="8" height="24" fill="#000"/>
<line x1="153.05" y1="647" x2="153.05" y2="644.5" stroke="#000" stroke-width="1.1"/>
<line x1="150.95" y1="644.6" x2="155.15" y2="644.6" stroke="#000" stroke-width="1.2"/>
<rect x="149.85" y="647.55" width="6.8" height="11.45" fill="#c8102e" stroke="#000" stroke-width="1.1"/>
<line x1="171.65" y1="605" x2="171.65" y2="596.3" stroke="#000" stroke-width="1.1"/>
<line x1="169.55" y1="596.4" x2="173.75" y2="596.4" stroke="#000" stroke-width="1.2"/>
<rect x="167.5" y="605" width="8.3" height="54" fill="#000"/>
<line x1="182.9" y1="614.3" x2="182.9" y2="601.3" stroke="#000" stroke-width="1.1"/>
<line x1="180.8" y1="601.4" x2="185" y2="601.4" stroke="#000" stroke-width="1.2"/>
<rect x="179.85" y="614.85" width="6.5" height="44.15" fill="#c8102e" stroke="#000" stroke-width="1.1"/>
<line x1="44.5" y1="582.35" x2="44.5" y2="659.65" stroke="#000" stroke-width="1.3"/>
<line x1="41.3" y1="659" x2="44.5" y2="659" stroke="#000" stroke-width="1.2"/>
<text x="28.24" y="661.55" font-size="7.3" textLength="10.96" lengthAdjust="spacingAndGlyphs" stroke="#000" stroke-width="0.18" >0.0</text>
<line x1="41.3" y1="633.67" x2="44.5" y2="633.67" stroke="#000" stroke-width="1.2"/>
<text x="28.34" y="636.22" font-size="7.3" textLength="10.96" lengthAdjust="spacingAndGlyphs" stroke="#000" stroke-width="0.18" >0.2</text>
<line x1="41.3" y1="608.33" x2="44.5" y2="608.33" stroke="#000" stroke-width="1.2"/>
<text x="28.16" y="610.89" font-size="7.3" textLength="10.96" lengthAdjust="spacingAndGlyphs" stroke="#000" stroke-width="0.18" >0.4</text>
<line x1="41.3" y1="583" x2="44.5" y2="583" stroke="#000" stroke-width="1.2"/>
<text x="28.29" y="585.55" font-size="7.3" textLength="10.96" lengthAdjust="spacingAndGlyphs" stroke="#000" stroke-width="0.18" >0.6</text>
<line x1="41.4" y1="659" x2="190.8" y2="659" stroke="#000" stroke-width="1.3"/>
<line x1="57.6" y1="659" x2="57.6" y2="662" stroke="#000" stroke-width="1.1"/>
<line x1="87.5" y1="659" x2="87.5" y2="662" stroke="#000" stroke-width="1.1"/>
<line x1="117.2" y1="659" x2="117.2" y2="662" stroke="#000" stroke-width="1.1"/>
<line x1="147" y1="659" x2="147" y2="662" stroke="#000" stroke-width="1.1"/>
<line x1="176.8" y1="659" x2="176.8" y2="662" stroke="#000" stroke-width="1.1"/>
<text x="49.78" y="670.5" font-size="7.5" stroke="#000" stroke-width="0.18" >MLP</text>
<text x="80.22" y="670.5" font-size="7.5" stroke="#000" stroke-width="0.18" >CLP</text>
<text x="110.03" y="670.5" font-size="7.5" stroke="#000" stroke-width="0.18" >Fr A</text>
<text x="134.54" y="670.5" font-size="7.5" stroke="#000" stroke-width="0.18" >Fr B&amp;C</text>
<text x="169.62" y="670.5" font-size="7.5" stroke="#000" stroke-width="0.18" >FrC′</text>
<g transform="translate(23.5,639.9) rotate(-90)"><text x="-0.23" y="0" font-size="8.5" textLength="38.57" lengthAdjust="spacingAndGlyphs" stroke="#000" stroke-width="0.28">% donor cells</text></g>
<rect x="328" y="653.4" width="8.3" height="1" fill="#000"/>
<rect x="340.05" y="653.85" width="7.8" height="0.55" fill="#c8102e" stroke="#000" stroke-width="1.1"/>
<line x1="363.4" y1="653.5" x2="363.4" y2="653" stroke="#000" stroke-width="1.1"/>
<line x1="361.3" y1="653.1" x2="365.5" y2="653.1" stroke="#000" stroke-width="1.2"/>
<rect x="359.3" y="653.5" width="8.2" height="0.9" fill="#000"/>
<line x1="374.25" y1="650.5" x2="374.25" y2="650" stroke="#000" stroke-width="1.1"/>
<line x1="372.15" y1="650.1" x2="376.35" y2="650.1" stroke="#000" stroke-width="1.2"/>
<rect x="371.05" y="651.05" width="6.8" height="3.35" fill="#c8102e" stroke="#000" stroke-width="1.1"/>
<line x1="392.8" y1="639.3" x2="392.8" y2="638.6" stroke="#000" stroke-width="1.1"/>
<line x1="390.7" y1="638.7" x2="394.9" y2="638.7" stroke="#000" stroke-width="1.2"/>
<rect x="388.8" y="639.3" width="8" height="15.1" fill="#000"/>
<line x1="404.25" y1="629" x2="404.25" y2="627.5" stroke="#000" stroke-width="1.1"/>
<line x1="402.15" y1="627.6" x2="406.35" y2="627.6" stroke="#000" stroke-width="1.2"/>
<rect x="401.05" y="629.55" width="6.8" height="24.85" fill="#c8102e" stroke="#000" stroke-width="1.1"/>
<line x1="422.8" y1="630" x2="422.8" y2="627.5" stroke="#000" stroke-width="1.1"/>
<line x1="420.7" y1="627.6" x2="424.9" y2="627.6" stroke="#000" stroke-width="1.2"/>
<rect x="418.8" y="630" width="8" height="24.4" fill="#000"/>
<line x1="433.75" y1="640.8" x2="433.75" y2="638.8" stroke="#000" stroke-width="1.1"/>
<line x1="431.65" y1="638.9" x2="435.85" y2="638.9" stroke="#000" stroke-width="1.2"/>
<rect x="430.55" y="641.35" width="6.8" height="13.05" fill="#c8102e" stroke="#000" stroke-width="1.1"/>
<line x1="452.3" y1="600" x2="452.3" y2="592.5" stroke="#000" stroke-width="1.1"/>
<line x1="450.2" y1="592.6" x2="454.4" y2="592.6" stroke="#000" stroke-width="1.2"/>
<rect x="448.3" y="600" width="8" height="54.4" fill="#000"/>
<line x1="463.75" y1="604" x2="463.75" y2="590.5" stroke="#000" stroke-width="1.1"/>
<line x1="461.65" y1="590.6" x2="465.85" y2="590.6" stroke="#000" stroke-width="1.2"/>
<rect x="460.55" y="604.55" width="6.8" height="49.85" fill="#c8102e" stroke="#000" stroke-width="1.1"/>
<line x1="325.8" y1="577.65" x2="325.8" y2="655.05" stroke="#000" stroke-width="1.3"/>
<line x1="322.6" y1="654.4" x2="325.8" y2="654.4" stroke="#000" stroke-width="1.2"/>
<text x="305.16" y="656.95" font-size="7.3" textLength="15.34" lengthAdjust="spacingAndGlyphs" stroke="#000" stroke-width="0.18" >0.00</text>
<line x1="322.6" y1="635.38" x2="325.8" y2="635.38" stroke="#000" stroke-width="1.2"/>
<text x="305.19" y="637.93" font-size="7.3" textLength="15.34" lengthAdjust="spacingAndGlyphs" stroke="#000" stroke-width="0.18" >0.05</text>
<line x1="322.6" y1="616.35" x2="325.8" y2="616.35" stroke="#000" stroke-width="1.2"/>
<text x="305.16" y="618.9" font-size="7.3" textLength="15.34" lengthAdjust="spacingAndGlyphs" stroke="#000" stroke-width="0.18" >0.10</text>
<line x1="322.6" y1="597.32" x2="325.8" y2="597.32" stroke="#000" stroke-width="1.2"/>
<text x="305.19" y="599.88" font-size="7.3" textLength="15.34" lengthAdjust="spacingAndGlyphs" stroke="#000" stroke-width="0.18" >0.15</text>
<line x1="322.6" y1="578.3" x2="325.8" y2="578.3" stroke="#000" stroke-width="1.2"/>
<text x="305.16" y="580.85" font-size="7.3" textLength="15.34" lengthAdjust="spacingAndGlyphs" stroke="#000" stroke-width="0.18" >0.20</text>
<line x1="322.7" y1="654.4" x2="472" y2="654.4" stroke="#000" stroke-width="1.3"/>
<line x1="338.8" y1="654.4" x2="338.8" y2="657.4" stroke="#000" stroke-width="1.1"/>
<line x1="368.8" y1="654.4" x2="368.8" y2="657.4" stroke="#000" stroke-width="1.1"/>
<line x1="398.3" y1="654.4" x2="398.3" y2="657.4" stroke="#000" stroke-width="1.1"/>
<line x1="428" y1="654.4" x2="428" y2="657.4" stroke="#000" stroke-width="1.1"/>
<line x1="458" y1="654.4" x2="458" y2="657.4" stroke="#000" stroke-width="1.1"/>
<text x="330.98" y="666.3" font-size="7.5" stroke="#000" stroke-width="0.18" >MLP</text>
<text x="361.52" y="666.3" font-size="7.5" stroke="#000" stroke-width="0.18" >CLP</text>
<text x="391.13" y="666.3" font-size="7.5" stroke="#000" stroke-width="0.18" >Fr A</text>
<text x="415.54" y="666.3" font-size="7.5" stroke="#000" stroke-width="0.18" >Fr B&amp;C</text>
<text x="450.81" y="666.3" font-size="7.5" stroke="#000" stroke-width="0.18" >FrC′</text>
<g transform="translate(300,642.1) rotate(-90)"><text x="-0.54" y="0" font-size="8.5" textLength="50.78" lengthAdjust="spacingAndGlyphs" stroke="#000" stroke-width="0.28">Donor cells # x10</text><text x="50.55" y="-2.21" font-size="5.44" textLength="2.34" lengthAdjust="spacingAndGlyphs" stroke="#000" stroke-width="0.2">6</text></g>
<rect x="0" y="0" width="520" height="1.25" fill="#000"/>
<rect x="0" y="0" width="1.25" height="676" fill="#000"/>
<rect x="518.6" y="0" width="1.4" height="676" fill="#000"/>
<rect x="0" y="674.5" width="520" height="1.5" fill="#000"/>
</svg>
</body></html>
